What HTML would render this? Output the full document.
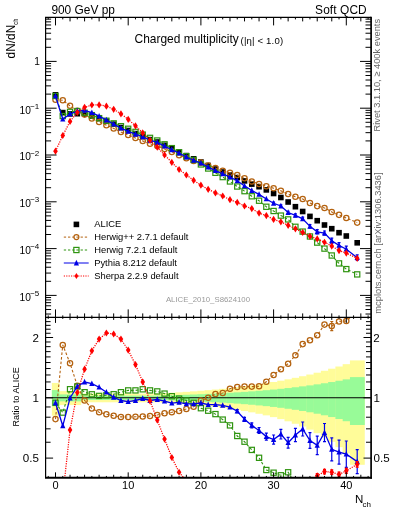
<!DOCTYPE html><html><head><meta charset="utf-8"><style>html,body{margin:0;padding:0;background:#fff;width:393px;height:512px;overflow:hidden}svg{display:block;will-change:transform}text{font-family:"Liberation Sans",sans-serif}</style></head><body>
<svg width="393" height="512" viewBox="0 0 393 512">
<defs><clipPath id="cm"><rect x="45.60" y="17.40" width="325.40" height="300.00"/></clipPath>
<clipPath id="cr"><rect x="45.60" y="317.40" width="325.40" height="160.60"/></clipPath></defs>
<g clip-path="url(#cr)">
<rect x="51.87" y="382.96" width="7.57" height="32.74" fill="#fffc99"/>
<rect x="59.13" y="391.11" width="7.57" height="13.95" fill="#fffc99"/>
<rect x="66.41" y="391.11" width="7.57" height="13.95" fill="#fffc99"/>
<rect x="73.67" y="391.11" width="7.57" height="13.95" fill="#fffc99"/>
<rect x="80.94" y="393.56" width="7.57" height="8.71" fill="#fffc99"/>
<rect x="88.22" y="393.56" width="7.57" height="8.71" fill="#fffc99"/>
<rect x="95.48" y="393.56" width="7.57" height="8.71" fill="#fffc99"/>
<rect x="102.75" y="393.56" width="7.57" height="8.71" fill="#fffc99"/>
<rect x="110.03" y="393.56" width="7.57" height="8.71" fill="#fffc99"/>
<rect x="117.29" y="393.56" width="7.57" height="8.71" fill="#fffc99"/>
<rect x="124.56" y="393.56" width="7.57" height="8.71" fill="#fffc99"/>
<rect x="131.83" y="393.56" width="7.57" height="8.71" fill="#fffc99"/>
<rect x="139.10" y="393.56" width="7.57" height="8.71" fill="#fffc99"/>
<rect x="146.38" y="393.56" width="7.57" height="8.71" fill="#fffc99"/>
<rect x="153.64" y="393.54" width="7.57" height="8.74" fill="#fffc99"/>
<rect x="160.91" y="393.17" width="7.57" height="9.53" fill="#fffc99"/>
<rect x="168.19" y="392.76" width="7.57" height="10.38" fill="#fffc99"/>
<rect x="175.45" y="392.32" width="7.57" height="11.32" fill="#fffc99"/>
<rect x="182.72" y="391.85" width="7.57" height="12.34" fill="#fffc99"/>
<rect x="190.00" y="391.33" width="7.57" height="13.46" fill="#fffc99"/>
<rect x="197.26" y="390.77" width="7.57" height="14.68" fill="#fffc99"/>
<rect x="204.53" y="390.16" width="7.57" height="16.01" fill="#fffc99"/>
<rect x="211.80" y="389.51" width="7.57" height="17.46" fill="#fffc99"/>
<rect x="219.07" y="388.80" width="7.57" height="19.04" fill="#fffc99"/>
<rect x="226.34" y="388.03" width="7.57" height="20.77" fill="#fffc99"/>
<rect x="233.61" y="387.21" width="7.57" height="22.66" fill="#fffc99"/>
<rect x="240.88" y="386.31" width="7.57" height="24.73" fill="#fffc99"/>
<rect x="248.16" y="385.35" width="7.57" height="26.99" fill="#fffc99"/>
<rect x="255.42" y="384.31" width="7.57" height="29.46" fill="#fffc99"/>
<rect x="262.69" y="383.19" width="7.57" height="32.17" fill="#fffc99"/>
<rect x="269.96" y="381.99" width="7.57" height="35.14" fill="#fffc99"/>
<rect x="277.24" y="380.70" width="7.57" height="38.41" fill="#fffc99"/>
<rect x="284.50" y="379.31" width="7.57" height="41.99" fill="#fffc99"/>
<rect x="291.77" y="377.83" width="7.57" height="45.94" fill="#fffc99"/>
<rect x="299.04" y="376.23" width="7.57" height="50.30" fill="#fffc99"/>
<rect x="306.31" y="374.53" width="7.57" height="55.13" fill="#fffc99"/>
<rect x="313.58" y="372.71" width="7.57" height="60.48" fill="#fffc99"/>
<rect x="320.85" y="370.77" width="7.57" height="66.45" fill="#fffc99"/>
<rect x="328.12" y="368.71" width="7.57" height="73.12" fill="#fffc99"/>
<rect x="335.39" y="366.51" width="7.57" height="80.64" fill="#fffc99"/>
<rect x="342.66" y="364.17" width="7.57" height="89.17" fill="#fffc99"/>
<rect x="349.94" y="360.41" width="14.84" height="104.38" fill="#fffc99"/>
<rect x="51.87" y="390.06" width="7.57" height="16.23" fill="#98fb98"/>
<rect x="59.13" y="394.39" width="7.57" height="6.96" fill="#98fb98"/>
<rect x="66.41" y="394.39" width="7.57" height="6.96" fill="#98fb98"/>
<rect x="73.67" y="394.39" width="7.57" height="6.96" fill="#98fb98"/>
<rect x="80.94" y="395.65" width="7.57" height="4.35" fill="#98fb98"/>
<rect x="88.22" y="395.65" width="7.57" height="4.35" fill="#98fb98"/>
<rect x="95.48" y="395.65" width="7.57" height="4.35" fill="#98fb98"/>
<rect x="102.75" y="395.65" width="7.57" height="4.35" fill="#98fb98"/>
<rect x="110.03" y="395.65" width="7.57" height="4.35" fill="#98fb98"/>
<rect x="117.29" y="395.65" width="7.57" height="4.35" fill="#98fb98"/>
<rect x="124.56" y="395.65" width="7.57" height="4.35" fill="#98fb98"/>
<rect x="131.83" y="395.65" width="7.57" height="4.35" fill="#98fb98"/>
<rect x="139.10" y="395.65" width="7.57" height="4.35" fill="#98fb98"/>
<rect x="146.38" y="395.65" width="7.57" height="4.35" fill="#98fb98"/>
<rect x="153.64" y="395.64" width="7.57" height="4.37" fill="#98fb98"/>
<rect x="160.91" y="395.45" width="7.57" height="4.76" fill="#98fb98"/>
<rect x="168.19" y="395.24" width="7.57" height="5.19" fill="#98fb98"/>
<rect x="175.45" y="395.02" width="7.57" height="5.66" fill="#98fb98"/>
<rect x="182.72" y="394.77" width="7.57" height="6.16" fill="#98fb98"/>
<rect x="190.00" y="394.50" width="7.57" height="6.72" fill="#98fb98"/>
<rect x="197.26" y="394.21" width="7.57" height="7.33" fill="#98fb98"/>
<rect x="204.53" y="393.90" width="7.57" height="7.99" fill="#98fb98"/>
<rect x="211.80" y="393.56" width="7.57" height="8.71" fill="#98fb98"/>
<rect x="219.07" y="393.18" width="7.57" height="9.49" fill="#98fb98"/>
<rect x="226.34" y="392.78" width="7.57" height="10.35" fill="#98fb98"/>
<rect x="233.61" y="392.34" width="7.57" height="11.28" fill="#98fb98"/>
<rect x="240.88" y="391.87" width="7.57" height="12.30" fill="#98fb98"/>
<rect x="248.16" y="391.35" width="7.57" height="13.41" fill="#98fb98"/>
<rect x="255.42" y="390.79" width="7.57" height="14.63" fill="#98fb98"/>
<rect x="262.69" y="390.19" width="7.57" height="15.95" fill="#98fb98"/>
<rect x="269.96" y="389.54" width="7.57" height="17.39" fill="#98fb98"/>
<rect x="277.24" y="388.83" width="7.57" height="18.97" fill="#98fb98"/>
<rect x="284.50" y="388.07" width="7.57" height="20.70" fill="#98fb98"/>
<rect x="291.77" y="387.24" width="7.57" height="22.58" fill="#98fb98"/>
<rect x="299.04" y="386.35" width="7.57" height="24.64" fill="#98fb98"/>
<rect x="306.31" y="385.39" width="7.57" height="26.89" fill="#98fb98"/>
<rect x="313.58" y="384.36" width="7.57" height="29.35" fill="#98fb98"/>
<rect x="320.85" y="383.24" width="7.57" height="32.05" fill="#98fb98"/>
<rect x="328.12" y="382.04" width="7.57" height="35.01" fill="#98fb98"/>
<rect x="335.39" y="380.75" width="7.57" height="38.27" fill="#98fb98"/>
<rect x="342.66" y="379.37" width="7.57" height="41.84" fill="#98fb98"/>
<rect x="349.94" y="377.11" width="14.84" height="47.89" fill="#98fb98"/>
<line x1="45.60" y1="397.8" x2="371.00" y2="397.8" stroke="#000" stroke-width="1.1"/>
<polyline points="55.50,419.10 62.77,344.90 70.04,363.30 77.31,385.70 84.58,400.40 91.85,408.50 99.12,412.20 106.39,414.20 113.66,415.70 120.93,416.90 128.20,417.00 135.47,416.80 142.74,416.40 150.01,415.90 157.28,415.00 164.55,413.30 171.82,412.30 179.09,410.90 186.36,409.00 193.63,406.80 200.90,400.50 208.17,397.80 215.44,394.00 222.71,393.00 229.98,388.70 237.25,387.00 244.52,386.60 251.79,386.60 259.06,386.20 266.33,381.80 273.60,374.90 280.87,369.30 288.14,363.70 295.41,355.30 302.68,344.10 309.95,340.20 317.22,335.30 324.49,324.60 331.76,326.10 339.03,321.40 346.30,321.00 357.20,311.35" fill="none" stroke="#b4620f" stroke-width="1.10" stroke-dasharray="2.6,2.0"/>
<path d="M331.76 321.50V330.70M330.26 321.50h3M330.26 330.70h3" stroke="#b4620f" stroke-width="1.2" fill="none"/>
<circle cx="55.50" cy="419.10" r="2.65" fill="none" stroke="#b4620f" stroke-width="1.25"/>
<circle cx="62.77" cy="344.90" r="2.65" fill="none" stroke="#b4620f" stroke-width="1.25"/>
<circle cx="70.04" cy="363.30" r="2.65" fill="none" stroke="#b4620f" stroke-width="1.25"/>
<circle cx="77.31" cy="385.70" r="2.65" fill="none" stroke="#b4620f" stroke-width="1.25"/>
<circle cx="84.58" cy="400.40" r="2.65" fill="none" stroke="#b4620f" stroke-width="1.25"/>
<circle cx="91.85" cy="408.50" r="2.65" fill="none" stroke="#b4620f" stroke-width="1.25"/>
<circle cx="99.12" cy="412.20" r="2.65" fill="none" stroke="#b4620f" stroke-width="1.25"/>
<circle cx="106.39" cy="414.20" r="2.65" fill="none" stroke="#b4620f" stroke-width="1.25"/>
<circle cx="113.66" cy="415.70" r="2.65" fill="none" stroke="#b4620f" stroke-width="1.25"/>
<circle cx="120.93" cy="416.90" r="2.65" fill="none" stroke="#b4620f" stroke-width="1.25"/>
<circle cx="128.20" cy="417.00" r="2.65" fill="none" stroke="#b4620f" stroke-width="1.25"/>
<circle cx="135.47" cy="416.80" r="2.65" fill="none" stroke="#b4620f" stroke-width="1.25"/>
<circle cx="142.74" cy="416.40" r="2.65" fill="none" stroke="#b4620f" stroke-width="1.25"/>
<circle cx="150.01" cy="415.90" r="2.65" fill="none" stroke="#b4620f" stroke-width="1.25"/>
<circle cx="157.28" cy="415.00" r="2.65" fill="none" stroke="#b4620f" stroke-width="1.25"/>
<circle cx="164.55" cy="413.30" r="2.65" fill="none" stroke="#b4620f" stroke-width="1.25"/>
<circle cx="171.82" cy="412.30" r="2.65" fill="none" stroke="#b4620f" stroke-width="1.25"/>
<circle cx="179.09" cy="410.90" r="2.65" fill="none" stroke="#b4620f" stroke-width="1.25"/>
<circle cx="186.36" cy="409.00" r="2.65" fill="none" stroke="#b4620f" stroke-width="1.25"/>
<circle cx="193.63" cy="406.80" r="2.65" fill="none" stroke="#b4620f" stroke-width="1.25"/>
<circle cx="200.90" cy="400.50" r="2.65" fill="none" stroke="#b4620f" stroke-width="1.25"/>
<circle cx="208.17" cy="397.80" r="2.65" fill="none" stroke="#b4620f" stroke-width="1.25"/>
<circle cx="215.44" cy="394.00" r="2.65" fill="none" stroke="#b4620f" stroke-width="1.25"/>
<circle cx="222.71" cy="393.00" r="2.65" fill="none" stroke="#b4620f" stroke-width="1.25"/>
<circle cx="229.98" cy="388.70" r="2.65" fill="none" stroke="#b4620f" stroke-width="1.25"/>
<circle cx="237.25" cy="387.00" r="2.65" fill="none" stroke="#b4620f" stroke-width="1.25"/>
<circle cx="244.52" cy="386.60" r="2.65" fill="none" stroke="#b4620f" stroke-width="1.25"/>
<circle cx="251.79" cy="386.60" r="2.65" fill="none" stroke="#b4620f" stroke-width="1.25"/>
<circle cx="259.06" cy="386.20" r="2.65" fill="none" stroke="#b4620f" stroke-width="1.25"/>
<circle cx="266.33" cy="381.80" r="2.65" fill="none" stroke="#b4620f" stroke-width="1.25"/>
<circle cx="273.60" cy="374.90" r="2.65" fill="none" stroke="#b4620f" stroke-width="1.25"/>
<circle cx="280.87" cy="369.30" r="2.65" fill="none" stroke="#b4620f" stroke-width="1.25"/>
<circle cx="288.14" cy="363.70" r="2.65" fill="none" stroke="#b4620f" stroke-width="1.25"/>
<circle cx="295.41" cy="355.30" r="2.65" fill="none" stroke="#b4620f" stroke-width="1.25"/>
<circle cx="302.68" cy="344.10" r="2.65" fill="none" stroke="#b4620f" stroke-width="1.25"/>
<circle cx="309.95" cy="340.20" r="2.65" fill="none" stroke="#b4620f" stroke-width="1.25"/>
<circle cx="317.22" cy="335.30" r="2.65" fill="none" stroke="#b4620f" stroke-width="1.25"/>
<circle cx="324.49" cy="324.60" r="2.65" fill="none" stroke="#b4620f" stroke-width="1.25"/>
<circle cx="331.76" cy="326.10" r="2.65" fill="none" stroke="#b4620f" stroke-width="1.25"/>
<circle cx="339.03" cy="321.40" r="2.65" fill="none" stroke="#b4620f" stroke-width="1.25"/>
<circle cx="346.30" cy="321.00" r="2.65" fill="none" stroke="#b4620f" stroke-width="1.25"/>
<circle cx="357.20" cy="311.35" r="2.65" fill="none" stroke="#b4620f" stroke-width="1.25"/>
<polyline points="55.50,402.80 62.77,412.60 70.04,389.20 77.31,386.50 84.58,392.20 91.85,394.30 99.12,395.90 106.39,395.30 113.66,394.25 120.93,392.20 128.20,390.40 135.47,390.40 142.74,389.30 150.01,390.40 157.28,391.40 164.55,393.60 171.82,396.20 179.09,398.60 186.36,400.40 193.63,402.80 200.90,408.20 208.17,410.70 215.44,414.10 222.71,419.60 229.98,425.40 237.25,436.00 244.52,441.70 251.79,449.90 259.06,457.80 266.33,470.00 273.60,472.70 280.87,475.27 288.14,472.27 295.41,483.83 302.68,483.83 309.95,483.83 317.22,491.53 324.49,498.81 331.76,512.50 339.03,529.19 346.30,539.47 357.20,533.05" fill="none" stroke="#2f9410" stroke-width="1.10" stroke-dasharray="2.6,2.0"/>
<rect x="52.90" y="400.20" width="5.2" height="5.2" fill="none" stroke="#2f9410" stroke-width="1.2"/>
<rect x="60.17" y="410.00" width="5.2" height="5.2" fill="none" stroke="#2f9410" stroke-width="1.2"/>
<rect x="67.44" y="386.60" width="5.2" height="5.2" fill="none" stroke="#2f9410" stroke-width="1.2"/>
<rect x="74.71" y="383.90" width="5.2" height="5.2" fill="none" stroke="#2f9410" stroke-width="1.2"/>
<rect x="81.98" y="389.60" width="5.2" height="5.2" fill="none" stroke="#2f9410" stroke-width="1.2"/>
<rect x="89.25" y="391.70" width="5.2" height="5.2" fill="none" stroke="#2f9410" stroke-width="1.2"/>
<rect x="96.52" y="393.30" width="5.2" height="5.2" fill="none" stroke="#2f9410" stroke-width="1.2"/>
<rect x="103.79" y="392.70" width="5.2" height="5.2" fill="none" stroke="#2f9410" stroke-width="1.2"/>
<rect x="111.06" y="391.65" width="5.2" height="5.2" fill="none" stroke="#2f9410" stroke-width="1.2"/>
<rect x="118.33" y="389.60" width="5.2" height="5.2" fill="none" stroke="#2f9410" stroke-width="1.2"/>
<rect x="125.60" y="387.80" width="5.2" height="5.2" fill="none" stroke="#2f9410" stroke-width="1.2"/>
<rect x="132.87" y="387.80" width="5.2" height="5.2" fill="none" stroke="#2f9410" stroke-width="1.2"/>
<rect x="140.14" y="386.70" width="5.2" height="5.2" fill="none" stroke="#2f9410" stroke-width="1.2"/>
<rect x="147.41" y="387.80" width="5.2" height="5.2" fill="none" stroke="#2f9410" stroke-width="1.2"/>
<rect x="154.68" y="388.80" width="5.2" height="5.2" fill="none" stroke="#2f9410" stroke-width="1.2"/>
<rect x="161.95" y="391.00" width="5.2" height="5.2" fill="none" stroke="#2f9410" stroke-width="1.2"/>
<rect x="169.22" y="393.60" width="5.2" height="5.2" fill="none" stroke="#2f9410" stroke-width="1.2"/>
<rect x="176.49" y="396.00" width="5.2" height="5.2" fill="none" stroke="#2f9410" stroke-width="1.2"/>
<rect x="183.76" y="397.80" width="5.2" height="5.2" fill="none" stroke="#2f9410" stroke-width="1.2"/>
<rect x="191.03" y="400.20" width="5.2" height="5.2" fill="none" stroke="#2f9410" stroke-width="1.2"/>
<rect x="198.30" y="405.60" width="5.2" height="5.2" fill="none" stroke="#2f9410" stroke-width="1.2"/>
<rect x="205.57" y="408.10" width="5.2" height="5.2" fill="none" stroke="#2f9410" stroke-width="1.2"/>
<rect x="212.84" y="411.50" width="5.2" height="5.2" fill="none" stroke="#2f9410" stroke-width="1.2"/>
<rect x="220.11" y="417.00" width="5.2" height="5.2" fill="none" stroke="#2f9410" stroke-width="1.2"/>
<rect x="227.38" y="422.80" width="5.2" height="5.2" fill="none" stroke="#2f9410" stroke-width="1.2"/>
<rect x="234.65" y="433.40" width="5.2" height="5.2" fill="none" stroke="#2f9410" stroke-width="1.2"/>
<rect x="241.92" y="439.10" width="5.2" height="5.2" fill="none" stroke="#2f9410" stroke-width="1.2"/>
<rect x="249.19" y="447.30" width="5.2" height="5.2" fill="none" stroke="#2f9410" stroke-width="1.2"/>
<rect x="256.46" y="455.20" width="5.2" height="5.2" fill="none" stroke="#2f9410" stroke-width="1.2"/>
<rect x="263.73" y="467.40" width="5.2" height="5.2" fill="none" stroke="#2f9410" stroke-width="1.2"/>
<rect x="271.00" y="470.10" width="5.2" height="5.2" fill="none" stroke="#2f9410" stroke-width="1.2"/>
<rect x="278.27" y="472.67" width="5.2" height="5.2" fill="none" stroke="#2f9410" stroke-width="1.2"/>
<rect x="285.54" y="469.67" width="5.2" height="5.2" fill="none" stroke="#2f9410" stroke-width="1.2"/>
<rect x="292.81" y="481.23" width="5.2" height="5.2" fill="none" stroke="#2f9410" stroke-width="1.2"/>
<rect x="300.08" y="481.23" width="5.2" height="5.2" fill="none" stroke="#2f9410" stroke-width="1.2"/>
<rect x="307.35" y="481.23" width="5.2" height="5.2" fill="none" stroke="#2f9410" stroke-width="1.2"/>
<rect x="314.62" y="488.93" width="5.2" height="5.2" fill="none" stroke="#2f9410" stroke-width="1.2"/>
<rect x="321.89" y="496.21" width="5.2" height="5.2" fill="none" stroke="#2f9410" stroke-width="1.2"/>
<rect x="329.16" y="509.90" width="5.2" height="5.2" fill="none" stroke="#2f9410" stroke-width="1.2"/>
<rect x="336.43" y="526.59" width="5.2" height="5.2" fill="none" stroke="#2f9410" stroke-width="1.2"/>
<rect x="343.70" y="536.87" width="5.2" height="5.2" fill="none" stroke="#2f9410" stroke-width="1.2"/>
<rect x="354.60" y="530.45" width="5.2" height="5.2" fill="none" stroke="#2f9410" stroke-width="1.2"/>
<polyline points="55.50,402.80 62.77,425.80 70.04,398.00 77.31,386.50 84.58,382.00 91.85,383.70 99.12,387.20 106.39,392.20 113.66,397.30 120.93,400.50 128.20,401.60 135.47,400.50 142.74,398.50 150.01,400.50 157.28,399.50 164.55,401.10 171.82,403.10 179.09,402.30 186.36,403.90 193.63,403.90 200.90,403.00 208.17,404.60 215.44,404.60 222.71,405.40 229.98,407.10 237.25,411.20 244.52,419.30 251.79,425.40 259.06,430.50 266.33,436.60 273.60,439.60 280.87,434.20 288.14,442.70 295.41,435.00 302.68,429.00 309.95,440.50 317.22,445.40 324.49,432.60 331.76,449.30 339.03,452.20 346.30,454.20 357.20,461.60" fill="none" stroke="#0000e6" stroke-width="1.30"/>
<path d="M237.25 409.70V412.70M235.75 409.70h3M235.75 412.70h3" stroke="#0000e6" stroke-width="1.2" fill="none"/>
<path d="M244.52 417.30V421.30M243.02 417.30h3M243.02 421.30h3" stroke="#0000e6" stroke-width="1.2" fill="none"/>
<path d="M251.79 422.90V427.90M250.29 422.90h3M250.29 427.90h3" stroke="#0000e6" stroke-width="1.2" fill="none"/>
<path d="M259.06 427.50V433.50M257.56 427.50h3M257.56 433.50h3" stroke="#0000e6" stroke-width="1.2" fill="none"/>
<path d="M266.33 433.10V440.10M264.83 433.10h3M264.83 440.10h3" stroke="#0000e6" stroke-width="1.2" fill="none"/>
<path d="M273.60 435.00V444.20M272.10 435.00h3M272.10 444.20h3" stroke="#0000e6" stroke-width="1.2" fill="none"/>
<path d="M280.87 429.40V439.00M279.37 429.40h3M279.37 439.00h3" stroke="#0000e6" stroke-width="1.2" fill="none"/>
<path d="M288.14 437.30V448.10M286.64 437.30h3M286.64 448.10h3" stroke="#0000e6" stroke-width="1.2" fill="none"/>
<path d="M295.41 428.40V441.60M293.91 428.40h3M293.91 441.60h3" stroke="#0000e6" stroke-width="1.2" fill="none"/>
<path d="M302.68 422.00V436.00M301.18 422.00h3M301.18 436.00h3" stroke="#0000e6" stroke-width="1.2" fill="none"/>
<path d="M309.95 432.70V448.30M308.45 432.70h3M308.45 448.30h3" stroke="#0000e6" stroke-width="1.2" fill="none"/>
<path d="M317.22 436.10V454.70M315.72 436.10h3M315.72 454.70h3" stroke="#0000e6" stroke-width="1.2" fill="none"/>
<path d="M324.49 423.50V441.70M322.99 423.50h3M322.99 441.70h3" stroke="#0000e6" stroke-width="1.2" fill="none"/>
<path d="M331.76 437.80V460.80M330.26 437.80h3M330.26 460.80h3" stroke="#0000e6" stroke-width="1.2" fill="none"/>
<path d="M339.03 440.20V464.20M337.53 440.20h3M337.53 464.20h3" stroke="#0000e6" stroke-width="1.2" fill="none"/>
<path d="M346.30 441.00V467.40M344.80 441.00h3M344.80 467.40h3" stroke="#0000e6" stroke-width="1.2" fill="none"/>
<path d="M357.20 449.60V473.60M355.70 449.60h3M355.70 473.60h3" stroke="#0000e6" stroke-width="1.2" fill="none"/>
<path d="M55.50 399.60L58.10 405.20L52.90 405.20Z" fill="#0000e6"/>
<path d="M62.77 422.60L65.37 428.20L60.17 428.20Z" fill="#0000e6"/>
<path d="M70.04 394.80L72.64 400.40L67.44 400.40Z" fill="#0000e6"/>
<path d="M77.31 383.30L79.91 388.90L74.71 388.90Z" fill="#0000e6"/>
<path d="M84.58 378.80L87.18 384.40L81.98 384.40Z" fill="#0000e6"/>
<path d="M91.85 380.50L94.45 386.10L89.25 386.10Z" fill="#0000e6"/>
<path d="M99.12 384.00L101.72 389.60L96.52 389.60Z" fill="#0000e6"/>
<path d="M106.39 389.00L108.99 394.60L103.79 394.60Z" fill="#0000e6"/>
<path d="M113.66 394.10L116.26 399.70L111.06 399.70Z" fill="#0000e6"/>
<path d="M120.93 397.30L123.53 402.90L118.33 402.90Z" fill="#0000e6"/>
<path d="M128.20 398.40L130.80 404.00L125.60 404.00Z" fill="#0000e6"/>
<path d="M135.47 397.30L138.07 402.90L132.87 402.90Z" fill="#0000e6"/>
<path d="M142.74 395.30L145.34 400.90L140.14 400.90Z" fill="#0000e6"/>
<path d="M150.01 397.30L152.61 402.90L147.41 402.90Z" fill="#0000e6"/>
<path d="M157.28 396.30L159.88 401.90L154.68 401.90Z" fill="#0000e6"/>
<path d="M164.55 397.90L167.15 403.50L161.95 403.50Z" fill="#0000e6"/>
<path d="M171.82 399.90L174.42 405.50L169.22 405.50Z" fill="#0000e6"/>
<path d="M179.09 399.10L181.69 404.70L176.49 404.70Z" fill="#0000e6"/>
<path d="M186.36 400.70L188.96 406.30L183.76 406.30Z" fill="#0000e6"/>
<path d="M193.63 400.70L196.23 406.30L191.03 406.30Z" fill="#0000e6"/>
<path d="M200.90 399.80L203.50 405.40L198.30 405.40Z" fill="#0000e6"/>
<path d="M208.17 401.40L210.77 407.00L205.57 407.00Z" fill="#0000e6"/>
<path d="M215.44 401.40L218.04 407.00L212.84 407.00Z" fill="#0000e6"/>
<path d="M222.71 402.20L225.31 407.80L220.11 407.80Z" fill="#0000e6"/>
<path d="M229.98 403.90L232.58 409.50L227.38 409.50Z" fill="#0000e6"/>
<path d="M237.25 408.00L239.85 413.60L234.65 413.60Z" fill="#0000e6"/>
<path d="M244.52 416.10L247.12 421.70L241.92 421.70Z" fill="#0000e6"/>
<path d="M251.79 422.20L254.39 427.80L249.19 427.80Z" fill="#0000e6"/>
<path d="M259.06 427.30L261.66 432.90L256.46 432.90Z" fill="#0000e6"/>
<path d="M266.33 433.40L268.93 439.00L263.73 439.00Z" fill="#0000e6"/>
<path d="M273.60 436.40L276.20 442.00L271.00 442.00Z" fill="#0000e6"/>
<path d="M280.87 431.00L283.47 436.60L278.27 436.60Z" fill="#0000e6"/>
<path d="M288.14 439.50L290.74 445.10L285.54 445.10Z" fill="#0000e6"/>
<path d="M295.41 431.80L298.01 437.40L292.81 437.40Z" fill="#0000e6"/>
<path d="M302.68 425.80L305.28 431.40L300.08 431.40Z" fill="#0000e6"/>
<path d="M309.95 437.30L312.55 442.90L307.35 442.90Z" fill="#0000e6"/>
<path d="M317.22 442.20L319.82 447.80L314.62 447.80Z" fill="#0000e6"/>
<path d="M324.49 429.40L327.09 435.00L321.89 435.00Z" fill="#0000e6"/>
<path d="M331.76 446.10L334.36 451.70L329.16 451.70Z" fill="#0000e6"/>
<path d="M339.03 449.00L341.63 454.60L336.43 454.60Z" fill="#0000e6"/>
<path d="M346.30 451.00L348.90 456.60L343.70 456.60Z" fill="#0000e6"/>
<path d="M357.20 458.40L359.81 464.00L354.60 464.00Z" fill="#0000e6"/>
<polyline points="55.50,639.19 62.77,495.81 70.04,429.90 77.31,392.60 84.58,369.20 91.85,350.80 99.12,339.10 106.39,333.00 113.66,334.00 120.93,339.10 128.20,350.10 135.47,364.60 142.74,381.90 150.01,400.90 157.28,420.10 164.55,439.10 171.82,457.50 179.09,472.27 186.36,480.83 193.63,489.82 200.90,497.09 208.17,499.66 215.44,500.09 222.71,500.52 229.98,503.51 237.25,503.94 244.52,505.23 251.79,502.66 259.06,510.79 266.33,507.79 273.60,508.65 280.87,501.80 288.14,497.52 295.41,492.39 302.68,487.25 309.95,482.97 317.22,475.80 324.49,471.60 331.76,472.20 339.03,474.50 346.30,470.80 357.20,464.30" fill="none" stroke="#ff0000" stroke-width="1.25" stroke-dasharray="1.2,1.2"/>
<path d="M317.22 473.60V478.00M315.72 473.60h3M315.72 478.00h3" stroke="#ff0000" stroke-width="1.2" fill="none"/>
<path d="M324.49 469.40V473.80M322.99 469.40h3M322.99 473.80h3" stroke="#ff0000" stroke-width="1.2" fill="none"/>
<path d="M331.76 469.90V474.50M330.26 469.90h3M330.26 474.50h3" stroke="#ff0000" stroke-width="1.2" fill="none"/>
<path d="M339.03 472.10V476.90M337.53 472.10h3M337.53 476.90h3" stroke="#ff0000" stroke-width="1.2" fill="none"/>
<path d="M346.30 468.30V473.30M344.80 468.30h3M344.80 473.30h3" stroke="#ff0000" stroke-width="1.2" fill="none"/>
<path d="M357.20 461.50V467.10M355.70 461.50h3M355.70 467.10h3" stroke="#ff0000" stroke-width="1.2" fill="none"/>
<path d="M55.50 635.59L57.80 639.19L55.50 642.79L53.20 639.19Z" fill="#ff0000"/>
<path d="M62.77 492.21L65.07 495.81L62.77 499.41L60.47 495.81Z" fill="#ff0000"/>
<path d="M70.04 426.30L72.34 429.90L70.04 433.50L67.74 429.90Z" fill="#ff0000"/>
<path d="M77.31 389.00L79.61 392.60L77.31 396.20L75.01 392.60Z" fill="#ff0000"/>
<path d="M84.58 365.60L86.88 369.20L84.58 372.80L82.28 369.20Z" fill="#ff0000"/>
<path d="M91.85 347.20L94.15 350.80L91.85 354.40L89.55 350.80Z" fill="#ff0000"/>
<path d="M99.12 335.50L101.42 339.10L99.12 342.70L96.82 339.10Z" fill="#ff0000"/>
<path d="M106.39 329.40L108.69 333.00L106.39 336.60L104.09 333.00Z" fill="#ff0000"/>
<path d="M113.66 330.40L115.96 334.00L113.66 337.60L111.36 334.00Z" fill="#ff0000"/>
<path d="M120.93 335.50L123.23 339.10L120.93 342.70L118.63 339.10Z" fill="#ff0000"/>
<path d="M128.20 346.50L130.50 350.10L128.20 353.70L125.90 350.10Z" fill="#ff0000"/>
<path d="M135.47 361.00L137.77 364.60L135.47 368.20L133.17 364.60Z" fill="#ff0000"/>
<path d="M142.74 378.30L145.04 381.90L142.74 385.50L140.44 381.90Z" fill="#ff0000"/>
<path d="M150.01 397.30L152.31 400.90L150.01 404.50L147.71 400.90Z" fill="#ff0000"/>
<path d="M157.28 416.50L159.58 420.10L157.28 423.70L154.98 420.10Z" fill="#ff0000"/>
<path d="M164.55 435.50L166.85 439.10L164.55 442.70L162.25 439.10Z" fill="#ff0000"/>
<path d="M171.82 453.90L174.12 457.50L171.82 461.10L169.52 457.50Z" fill="#ff0000"/>
<path d="M179.09 468.67L181.39 472.27L179.09 475.87L176.79 472.27Z" fill="#ff0000"/>
<path d="M186.36 477.23L188.66 480.83L186.36 484.43L184.06 480.83Z" fill="#ff0000"/>
<path d="M193.63 486.22L195.93 489.82L193.63 493.42L191.33 489.82Z" fill="#ff0000"/>
<path d="M200.90 493.49L203.20 497.09L200.90 500.69L198.60 497.09Z" fill="#ff0000"/>
<path d="M208.17 496.06L210.47 499.66L208.17 503.26L205.87 499.66Z" fill="#ff0000"/>
<path d="M215.44 496.49L217.74 500.09L215.44 503.69L213.14 500.09Z" fill="#ff0000"/>
<path d="M222.71 496.92L225.01 500.52L222.71 504.12L220.41 500.52Z" fill="#ff0000"/>
<path d="M229.98 499.91L232.28 503.51L229.98 507.11L227.68 503.51Z" fill="#ff0000"/>
<path d="M237.25 500.34L239.55 503.94L237.25 507.54L234.95 503.94Z" fill="#ff0000"/>
<path d="M244.52 501.63L246.82 505.23L244.52 508.83L242.22 505.23Z" fill="#ff0000"/>
<path d="M251.79 499.06L254.09 502.66L251.79 506.26L249.49 502.66Z" fill="#ff0000"/>
<path d="M259.06 507.19L261.36 510.79L259.06 514.39L256.76 510.79Z" fill="#ff0000"/>
<path d="M266.33 504.19L268.63 507.79L266.33 511.39L264.03 507.79Z" fill="#ff0000"/>
<path d="M273.60 505.05L275.90 508.65L273.60 512.25L271.30 508.65Z" fill="#ff0000"/>
<path d="M280.87 498.20L283.17 501.80L280.87 505.40L278.57 501.80Z" fill="#ff0000"/>
<path d="M288.14 493.92L290.44 497.52L288.14 501.12L285.84 497.52Z" fill="#ff0000"/>
<path d="M295.41 488.79L297.71 492.39L295.41 495.99L293.11 492.39Z" fill="#ff0000"/>
<path d="M302.68 483.65L304.98 487.25L302.68 490.85L300.38 487.25Z" fill="#ff0000"/>
<path d="M309.95 479.37L312.25 482.97L309.95 486.57L307.65 482.97Z" fill="#ff0000"/>
<path d="M317.22 472.20L319.52 475.80L317.22 479.40L314.92 475.80Z" fill="#ff0000"/>
<path d="M324.49 468.00L326.79 471.60L324.49 475.20L322.19 471.60Z" fill="#ff0000"/>
<path d="M331.76 468.60L334.06 472.20L331.76 475.80L329.46 472.20Z" fill="#ff0000"/>
<path d="M339.03 470.90L341.33 474.50L339.03 478.10L336.73 474.50Z" fill="#ff0000"/>
<path d="M346.30 467.20L348.60 470.80L346.30 474.40L344.00 470.80Z" fill="#ff0000"/>
<path d="M357.20 460.70L359.50 464.30L357.20 467.90L354.90 464.30Z" fill="#ff0000"/>
</g>
<g clip-path="url(#cm)">
<rect x="52.70" y="92.00" width="5.6" height="5.6" fill="#000"/>
<rect x="59.97" y="109.80" width="5.6" height="5.6" fill="#000"/>
<rect x="67.24" y="111.10" width="5.6" height="5.6" fill="#000"/>
<rect x="74.51" y="110.90" width="5.6" height="5.6" fill="#000"/>
<rect x="81.78" y="111.20" width="5.6" height="5.6" fill="#000"/>
<rect x="89.05" y="113.20" width="5.6" height="5.6" fill="#000"/>
<rect x="96.32" y="115.80" width="5.6" height="5.6" fill="#000"/>
<rect x="103.59" y="118.50" width="5.6" height="5.6" fill="#000"/>
<rect x="110.86" y="121.40" width="5.6" height="5.6" fill="#000"/>
<rect x="118.13" y="124.70" width="5.6" height="5.6" fill="#000"/>
<rect x="125.40" y="127.70" width="5.6" height="5.6" fill="#000"/>
<rect x="132.67" y="130.80" width="5.6" height="5.6" fill="#000"/>
<rect x="139.94" y="133.80" width="5.6" height="5.6" fill="#000"/>
<rect x="147.21" y="136.80" width="5.6" height="5.6" fill="#000"/>
<rect x="154.48" y="139.20" width="5.6" height="5.6" fill="#000"/>
<rect x="161.75" y="142.50" width="5.6" height="5.6" fill="#000"/>
<rect x="169.02" y="145.70" width="5.6" height="5.6" fill="#000"/>
<rect x="176.29" y="149.30" width="5.6" height="5.6" fill="#000"/>
<rect x="183.56" y="152.80" width="5.6" height="5.6" fill="#000"/>
<rect x="190.83" y="156.00" width="5.6" height="5.6" fill="#000"/>
<rect x="198.10" y="159.20" width="5.6" height="5.6" fill="#000"/>
<rect x="205.37" y="162.70" width="5.6" height="5.6" fill="#000"/>
<rect x="212.64" y="166.20" width="5.6" height="5.6" fill="#000"/>
<rect x="219.91" y="169.20" width="5.6" height="5.6" fill="#000"/>
<rect x="227.18" y="172.20" width="5.6" height="5.6" fill="#000"/>
<rect x="234.45" y="174.80" width="5.6" height="5.6" fill="#000"/>
<rect x="241.72" y="178.10" width="5.6" height="5.6" fill="#000"/>
<rect x="248.99" y="181.30" width="5.6" height="5.6" fill="#000"/>
<rect x="256.26" y="183.90" width="5.6" height="5.6" fill="#000"/>
<rect x="263.53" y="187.10" width="5.6" height="5.6" fill="#000"/>
<rect x="270.80" y="190.70" width="5.6" height="5.6" fill="#000"/>
<rect x="278.07" y="194.70" width="5.6" height="5.6" fill="#000"/>
<rect x="285.34" y="199.20" width="5.6" height="5.6" fill="#000"/>
<rect x="292.61" y="203.90" width="5.6" height="5.6" fill="#000"/>
<rect x="299.88" y="208.70" width="5.6" height="5.6" fill="#000"/>
<rect x="307.15" y="213.60" width="5.6" height="5.6" fill="#000"/>
<rect x="314.42" y="217.90" width="5.6" height="5.6" fill="#000"/>
<rect x="321.69" y="222.20" width="5.6" height="5.6" fill="#000"/>
<rect x="328.96" y="225.90" width="5.6" height="5.6" fill="#000"/>
<rect x="336.23" y="229.90" width="5.6" height="5.6" fill="#000"/>
<rect x="343.50" y="233.20" width="5.6" height="5.6" fill="#000"/>
<rect x="354.40" y="240.00" width="5.6" height="5.6" fill="#000"/>
<polyline points="55.50,99.78 62.77,100.24 70.04,105.84 77.31,110.87 84.58,114.61 91.85,118.50 99.12,121.96 106.39,125.13 113.66,128.38 120.93,131.96 128.20,134.99 135.47,138.04 142.74,140.95 150.01,143.83 157.28,146.02 164.55,148.92 171.82,151.89 179.09,155.16 186.36,158.22 193.63,160.90 200.90,162.63 208.17,165.50 215.44,168.11 222.71,170.88 229.98,172.87 237.25,175.08 244.52,178.28 251.79,181.48 259.06,183.99 266.33,186.16 273.60,188.15 280.87,190.84 288.14,194.03 295.41,196.77 302.68,198.95 309.95,202.94 317.22,206.10 324.49,207.90 331.76,211.95 339.03,214.85 346.30,218.06 357.20,222.60" fill="none" stroke="#b4620f" stroke-width="1.10" stroke-dasharray="2.6,2.0"/>
<circle cx="55.50" cy="99.78" r="2.65" fill="none" stroke="#b4620f" stroke-width="1.25"/>
<circle cx="62.77" cy="100.24" r="2.65" fill="none" stroke="#b4620f" stroke-width="1.25"/>
<circle cx="70.04" cy="105.84" r="2.65" fill="none" stroke="#b4620f" stroke-width="1.25"/>
<circle cx="77.31" cy="110.87" r="2.65" fill="none" stroke="#b4620f" stroke-width="1.25"/>
<circle cx="84.58" cy="114.61" r="2.65" fill="none" stroke="#b4620f" stroke-width="1.25"/>
<circle cx="91.85" cy="118.50" r="2.65" fill="none" stroke="#b4620f" stroke-width="1.25"/>
<circle cx="99.12" cy="121.96" r="2.65" fill="none" stroke="#b4620f" stroke-width="1.25"/>
<circle cx="106.39" cy="125.13" r="2.65" fill="none" stroke="#b4620f" stroke-width="1.25"/>
<circle cx="113.66" cy="128.38" r="2.65" fill="none" stroke="#b4620f" stroke-width="1.25"/>
<circle cx="120.93" cy="131.96" r="2.65" fill="none" stroke="#b4620f" stroke-width="1.25"/>
<circle cx="128.20" cy="134.99" r="2.65" fill="none" stroke="#b4620f" stroke-width="1.25"/>
<circle cx="135.47" cy="138.04" r="2.65" fill="none" stroke="#b4620f" stroke-width="1.25"/>
<circle cx="142.74" cy="140.95" r="2.65" fill="none" stroke="#b4620f" stroke-width="1.25"/>
<circle cx="150.01" cy="143.83" r="2.65" fill="none" stroke="#b4620f" stroke-width="1.25"/>
<circle cx="157.28" cy="146.02" r="2.65" fill="none" stroke="#b4620f" stroke-width="1.25"/>
<circle cx="164.55" cy="148.92" r="2.65" fill="none" stroke="#b4620f" stroke-width="1.25"/>
<circle cx="171.82" cy="151.89" r="2.65" fill="none" stroke="#b4620f" stroke-width="1.25"/>
<circle cx="179.09" cy="155.16" r="2.65" fill="none" stroke="#b4620f" stroke-width="1.25"/>
<circle cx="186.36" cy="158.22" r="2.65" fill="none" stroke="#b4620f" stroke-width="1.25"/>
<circle cx="193.63" cy="160.90" r="2.65" fill="none" stroke="#b4620f" stroke-width="1.25"/>
<circle cx="200.90" cy="162.63" r="2.65" fill="none" stroke="#b4620f" stroke-width="1.25"/>
<circle cx="208.17" cy="165.50" r="2.65" fill="none" stroke="#b4620f" stroke-width="1.25"/>
<circle cx="215.44" cy="168.11" r="2.65" fill="none" stroke="#b4620f" stroke-width="1.25"/>
<circle cx="222.71" cy="170.88" r="2.65" fill="none" stroke="#b4620f" stroke-width="1.25"/>
<circle cx="229.98" cy="172.87" r="2.65" fill="none" stroke="#b4620f" stroke-width="1.25"/>
<circle cx="237.25" cy="175.08" r="2.65" fill="none" stroke="#b4620f" stroke-width="1.25"/>
<circle cx="244.52" cy="178.28" r="2.65" fill="none" stroke="#b4620f" stroke-width="1.25"/>
<circle cx="251.79" cy="181.48" r="2.65" fill="none" stroke="#b4620f" stroke-width="1.25"/>
<circle cx="259.06" cy="183.99" r="2.65" fill="none" stroke="#b4620f" stroke-width="1.25"/>
<circle cx="266.33" cy="186.16" r="2.65" fill="none" stroke="#b4620f" stroke-width="1.25"/>
<circle cx="273.60" cy="188.15" r="2.65" fill="none" stroke="#b4620f" stroke-width="1.25"/>
<circle cx="280.87" cy="190.84" r="2.65" fill="none" stroke="#b4620f" stroke-width="1.25"/>
<circle cx="288.14" cy="194.03" r="2.65" fill="none" stroke="#b4620f" stroke-width="1.25"/>
<circle cx="295.41" cy="196.77" r="2.65" fill="none" stroke="#b4620f" stroke-width="1.25"/>
<circle cx="302.68" cy="198.95" r="2.65" fill="none" stroke="#b4620f" stroke-width="1.25"/>
<circle cx="309.95" cy="202.94" r="2.65" fill="none" stroke="#b4620f" stroke-width="1.25"/>
<circle cx="317.22" cy="206.10" r="2.65" fill="none" stroke="#b4620f" stroke-width="1.25"/>
<circle cx="324.49" cy="207.90" r="2.65" fill="none" stroke="#b4620f" stroke-width="1.25"/>
<circle cx="331.76" cy="211.95" r="2.65" fill="none" stroke="#b4620f" stroke-width="1.25"/>
<circle cx="339.03" cy="214.85" r="2.65" fill="none" stroke="#b4620f" stroke-width="1.25"/>
<circle cx="346.30" cy="218.06" r="2.65" fill="none" stroke="#b4620f" stroke-width="1.25"/>
<circle cx="357.20" cy="222.60" r="2.65" fill="none" stroke="#b4620f" stroke-width="1.25"/>
<polyline points="55.50,95.97 62.77,116.06 70.04,111.89 77.31,111.06 84.58,112.69 91.85,115.18 99.12,118.16 106.39,120.72 113.66,123.37 120.93,126.19 128.20,128.77 135.47,131.87 142.74,134.61 150.01,137.87 157.28,140.50 164.55,144.32 171.82,148.13 179.09,152.29 186.36,156.21 193.63,159.97 200.90,164.43 208.17,168.51 215.44,172.81 222.71,177.09 229.98,181.45 237.25,186.53 244.52,191.16 251.79,196.27 259.06,200.72 266.33,206.77 273.60,211.00 280.87,215.60 288.14,219.40 295.41,226.80 302.68,231.60 309.95,236.50 317.22,242.60 324.49,248.60 331.76,255.50 339.03,263.40 346.30,269.10 357.20,274.40" fill="none" stroke="#2f9410" stroke-width="1.10" stroke-dasharray="2.6,2.0"/>
<rect x="52.90" y="93.37" width="5.2" height="5.2" fill="none" stroke="#2f9410" stroke-width="1.2"/>
<rect x="60.17" y="113.46" width="5.2" height="5.2" fill="none" stroke="#2f9410" stroke-width="1.2"/>
<rect x="67.44" y="109.29" width="5.2" height="5.2" fill="none" stroke="#2f9410" stroke-width="1.2"/>
<rect x="74.71" y="108.46" width="5.2" height="5.2" fill="none" stroke="#2f9410" stroke-width="1.2"/>
<rect x="81.98" y="110.09" width="5.2" height="5.2" fill="none" stroke="#2f9410" stroke-width="1.2"/>
<rect x="89.25" y="112.58" width="5.2" height="5.2" fill="none" stroke="#2f9410" stroke-width="1.2"/>
<rect x="96.52" y="115.56" width="5.2" height="5.2" fill="none" stroke="#2f9410" stroke-width="1.2"/>
<rect x="103.79" y="118.12" width="5.2" height="5.2" fill="none" stroke="#2f9410" stroke-width="1.2"/>
<rect x="111.06" y="120.77" width="5.2" height="5.2" fill="none" stroke="#2f9410" stroke-width="1.2"/>
<rect x="118.33" y="123.59" width="5.2" height="5.2" fill="none" stroke="#2f9410" stroke-width="1.2"/>
<rect x="125.60" y="126.17" width="5.2" height="5.2" fill="none" stroke="#2f9410" stroke-width="1.2"/>
<rect x="132.87" y="129.27" width="5.2" height="5.2" fill="none" stroke="#2f9410" stroke-width="1.2"/>
<rect x="140.14" y="132.01" width="5.2" height="5.2" fill="none" stroke="#2f9410" stroke-width="1.2"/>
<rect x="147.41" y="135.27" width="5.2" height="5.2" fill="none" stroke="#2f9410" stroke-width="1.2"/>
<rect x="154.68" y="137.90" width="5.2" height="5.2" fill="none" stroke="#2f9410" stroke-width="1.2"/>
<rect x="161.95" y="141.72" width="5.2" height="5.2" fill="none" stroke="#2f9410" stroke-width="1.2"/>
<rect x="169.22" y="145.53" width="5.2" height="5.2" fill="none" stroke="#2f9410" stroke-width="1.2"/>
<rect x="176.49" y="149.69" width="5.2" height="5.2" fill="none" stroke="#2f9410" stroke-width="1.2"/>
<rect x="183.76" y="153.61" width="5.2" height="5.2" fill="none" stroke="#2f9410" stroke-width="1.2"/>
<rect x="191.03" y="157.37" width="5.2" height="5.2" fill="none" stroke="#2f9410" stroke-width="1.2"/>
<rect x="198.30" y="161.83" width="5.2" height="5.2" fill="none" stroke="#2f9410" stroke-width="1.2"/>
<rect x="205.57" y="165.91" width="5.2" height="5.2" fill="none" stroke="#2f9410" stroke-width="1.2"/>
<rect x="212.84" y="170.21" width="5.2" height="5.2" fill="none" stroke="#2f9410" stroke-width="1.2"/>
<rect x="220.11" y="174.49" width="5.2" height="5.2" fill="none" stroke="#2f9410" stroke-width="1.2"/>
<rect x="227.38" y="178.85" width="5.2" height="5.2" fill="none" stroke="#2f9410" stroke-width="1.2"/>
<rect x="234.65" y="183.93" width="5.2" height="5.2" fill="none" stroke="#2f9410" stroke-width="1.2"/>
<rect x="241.92" y="188.56" width="5.2" height="5.2" fill="none" stroke="#2f9410" stroke-width="1.2"/>
<rect x="249.19" y="193.67" width="5.2" height="5.2" fill="none" stroke="#2f9410" stroke-width="1.2"/>
<rect x="256.46" y="198.12" width="5.2" height="5.2" fill="none" stroke="#2f9410" stroke-width="1.2"/>
<rect x="263.73" y="204.17" width="5.2" height="5.2" fill="none" stroke="#2f9410" stroke-width="1.2"/>
<rect x="271.00" y="208.40" width="5.2" height="5.2" fill="none" stroke="#2f9410" stroke-width="1.2"/>
<rect x="278.27" y="213.00" width="5.2" height="5.2" fill="none" stroke="#2f9410" stroke-width="1.2"/>
<rect x="285.54" y="216.80" width="5.2" height="5.2" fill="none" stroke="#2f9410" stroke-width="1.2"/>
<rect x="292.81" y="224.20" width="5.2" height="5.2" fill="none" stroke="#2f9410" stroke-width="1.2"/>
<rect x="300.08" y="229.00" width="5.2" height="5.2" fill="none" stroke="#2f9410" stroke-width="1.2"/>
<rect x="307.35" y="233.90" width="5.2" height="5.2" fill="none" stroke="#2f9410" stroke-width="1.2"/>
<rect x="314.62" y="240.00" width="5.2" height="5.2" fill="none" stroke="#2f9410" stroke-width="1.2"/>
<rect x="321.89" y="246.00" width="5.2" height="5.2" fill="none" stroke="#2f9410" stroke-width="1.2"/>
<rect x="329.16" y="252.90" width="5.2" height="5.2" fill="none" stroke="#2f9410" stroke-width="1.2"/>
<rect x="336.43" y="260.80" width="5.2" height="5.2" fill="none" stroke="#2f9410" stroke-width="1.2"/>
<rect x="343.70" y="266.50" width="5.2" height="5.2" fill="none" stroke="#2f9410" stroke-width="1.2"/>
<rect x="354.60" y="271.80" width="5.2" height="5.2" fill="none" stroke="#2f9410" stroke-width="1.2"/>
<polyline points="55.50,95.97 62.77,119.14 70.04,113.95 77.31,111.06 84.58,110.31 91.85,112.71 99.12,116.12 106.39,119.99 113.66,124.08 120.93,128.13 128.20,131.39 135.47,134.23 142.74,136.76 150.01,140.23 157.28,142.40 164.55,146.07 171.82,149.74 179.09,153.15 186.36,157.03 193.63,160.23 200.90,163.21 208.17,167.09 215.44,170.59 222.71,173.78 229.98,177.17 237.25,180.73 244.52,185.92 251.79,190.55 259.06,194.34 266.33,198.97 273.60,203.27 280.87,206.00 288.14,212.49 295.41,215.39 302.68,218.79 309.95,226.38 317.22,231.82 324.49,233.13 331.76,240.73 339.03,245.41 346.30,249.18 357.20,257.71" fill="none" stroke="#0000e6" stroke-width="1.30"/>
<path d="M273.60 202.19V204.34M272.10 202.19h3M272.10 204.34h3" stroke="#0000e6" stroke-width="1.2" fill="none"/>
<path d="M280.87 204.88V207.13M279.37 204.88h3M279.37 207.13h3" stroke="#0000e6" stroke-width="1.2" fill="none"/>
<path d="M288.14 211.23V213.75M286.64 211.23h3M286.64 213.75h3" stroke="#0000e6" stroke-width="1.2" fill="none"/>
<path d="M295.41 213.85V216.93M293.91 213.85h3M293.91 216.93h3" stroke="#0000e6" stroke-width="1.2" fill="none"/>
<path d="M302.68 217.15V220.43M301.18 217.15h3M301.18 220.43h3" stroke="#0000e6" stroke-width="1.2" fill="none"/>
<path d="M309.95 224.55V228.20M308.45 224.55h3M308.45 228.20h3" stroke="#0000e6" stroke-width="1.2" fill="none"/>
<path d="M317.22 229.65V233.99M315.72 229.65h3M315.72 233.99h3" stroke="#0000e6" stroke-width="1.2" fill="none"/>
<path d="M324.49 231.00V235.26M322.99 231.00h3M322.99 235.26h3" stroke="#0000e6" stroke-width="1.2" fill="none"/>
<path d="M331.76 238.05V243.42M330.26 238.05h3M330.26 243.42h3" stroke="#0000e6" stroke-width="1.2" fill="none"/>
<path d="M339.03 242.61V248.21M337.53 242.61h3M337.53 248.21h3" stroke="#0000e6" stroke-width="1.2" fill="none"/>
<path d="M346.30 246.09V252.26M344.80 246.09h3M344.80 252.26h3" stroke="#0000e6" stroke-width="1.2" fill="none"/>
<path d="M357.20 254.90V260.51M355.70 254.90h3M355.70 260.51h3" stroke="#0000e6" stroke-width="1.2" fill="none"/>
<path d="M55.50 92.77L58.10 98.37L52.90 98.37Z" fill="#0000e6"/>
<path d="M62.77 115.94L65.37 121.54L60.17 121.54Z" fill="#0000e6"/>
<path d="M70.04 110.75L72.64 116.35L67.44 116.35Z" fill="#0000e6"/>
<path d="M77.31 107.86L79.91 113.46L74.71 113.46Z" fill="#0000e6"/>
<path d="M84.58 107.11L87.18 112.71L81.98 112.71Z" fill="#0000e6"/>
<path d="M91.85 109.51L94.45 115.11L89.25 115.11Z" fill="#0000e6"/>
<path d="M99.12 112.92L101.72 118.52L96.52 118.52Z" fill="#0000e6"/>
<path d="M106.39 116.79L108.99 122.39L103.79 122.39Z" fill="#0000e6"/>
<path d="M113.66 120.88L116.26 126.48L111.06 126.48Z" fill="#0000e6"/>
<path d="M120.93 124.93L123.53 130.53L118.33 130.53Z" fill="#0000e6"/>
<path d="M128.20 128.19L130.80 133.79L125.60 133.79Z" fill="#0000e6"/>
<path d="M135.47 131.03L138.07 136.63L132.87 136.63Z" fill="#0000e6"/>
<path d="M142.74 133.56L145.34 139.16L140.14 139.16Z" fill="#0000e6"/>
<path d="M150.01 137.03L152.61 142.63L147.41 142.63Z" fill="#0000e6"/>
<path d="M157.28 139.20L159.88 144.80L154.68 144.80Z" fill="#0000e6"/>
<path d="M164.55 142.87L167.15 148.47L161.95 148.47Z" fill="#0000e6"/>
<path d="M171.82 146.54L174.42 152.14L169.22 152.14Z" fill="#0000e6"/>
<path d="M179.09 149.95L181.69 155.55L176.49 155.55Z" fill="#0000e6"/>
<path d="M186.36 153.83L188.96 159.43L183.76 159.43Z" fill="#0000e6"/>
<path d="M193.63 157.03L196.23 162.63L191.03 162.63Z" fill="#0000e6"/>
<path d="M200.90 160.01L203.50 165.61L198.30 165.61Z" fill="#0000e6"/>
<path d="M208.17 163.89L210.77 169.49L205.57 169.49Z" fill="#0000e6"/>
<path d="M215.44 167.39L218.04 172.99L212.84 172.99Z" fill="#0000e6"/>
<path d="M222.71 170.58L225.31 176.18L220.11 176.18Z" fill="#0000e6"/>
<path d="M229.98 173.97L232.58 179.57L227.38 179.57Z" fill="#0000e6"/>
<path d="M237.25 177.53L239.85 183.13L234.65 183.13Z" fill="#0000e6"/>
<path d="M244.52 182.72L247.12 188.32L241.92 188.32Z" fill="#0000e6"/>
<path d="M251.79 187.35L254.39 192.95L249.19 192.95Z" fill="#0000e6"/>
<path d="M259.06 191.14L261.66 196.74L256.46 196.74Z" fill="#0000e6"/>
<path d="M266.33 195.77L268.93 201.37L263.73 201.37Z" fill="#0000e6"/>
<path d="M273.60 200.07L276.20 205.67L271.00 205.67Z" fill="#0000e6"/>
<path d="M280.87 202.80L283.47 208.40L278.27 208.40Z" fill="#0000e6"/>
<path d="M288.14 209.29L290.74 214.89L285.54 214.89Z" fill="#0000e6"/>
<path d="M295.41 212.19L298.01 217.79L292.81 217.79Z" fill="#0000e6"/>
<path d="M302.68 215.59L305.28 221.19L300.08 221.19Z" fill="#0000e6"/>
<path d="M309.95 223.18L312.55 228.78L307.35 228.78Z" fill="#0000e6"/>
<path d="M317.22 228.62L319.82 234.22L314.62 234.22Z" fill="#0000e6"/>
<path d="M324.49 229.93L327.09 235.53L321.89 235.53Z" fill="#0000e6"/>
<path d="M331.76 237.53L334.36 243.13L329.16 243.13Z" fill="#0000e6"/>
<path d="M339.03 242.21L341.63 247.81L336.43 247.81Z" fill="#0000e6"/>
<path d="M346.30 245.98L348.90 251.58L343.70 251.58Z" fill="#0000e6"/>
<path d="M357.20 254.51L359.81 260.11L354.60 260.11Z" fill="#0000e6"/>
<polyline points="55.50,151.20 62.77,135.50 70.04,121.40 77.31,112.49 84.58,107.32 91.85,105.02 99.12,104.88 106.39,106.16 113.66,109.29 120.93,113.78 128.20,119.35 135.47,125.84 142.74,132.88 150.01,140.32 157.28,147.21 164.55,154.95 171.82,162.45 179.09,169.50 186.36,175.00 193.63,180.30 200.90,185.20 208.17,189.30 215.44,192.90 222.71,196.00 229.98,199.70 237.25,202.40 244.52,206.00 251.79,208.60 259.06,213.10 266.33,215.60 273.60,219.40 280.87,221.80 288.14,225.30 295.41,228.80 302.68,232.40 309.95,236.30 317.22,238.92 324.49,242.24 331.76,246.08 339.03,250.62 346.30,253.06 357.20,258.34" fill="none" stroke="#ff0000" stroke-width="1.25" stroke-dasharray="1.2,1.2"/>
<path d="M55.50 147.60L57.80 151.20L55.50 154.80L53.20 151.20Z" fill="#ff0000"/>
<path d="M62.77 131.90L65.07 135.50L62.77 139.10L60.47 135.50Z" fill="#ff0000"/>
<path d="M70.04 117.80L72.34 121.40L70.04 125.00L67.74 121.40Z" fill="#ff0000"/>
<path d="M77.31 108.89L79.61 112.49L77.31 116.09L75.01 112.49Z" fill="#ff0000"/>
<path d="M84.58 103.72L86.88 107.32L84.58 110.92L82.28 107.32Z" fill="#ff0000"/>
<path d="M91.85 101.42L94.15 105.02L91.85 108.62L89.55 105.02Z" fill="#ff0000"/>
<path d="M99.12 101.28L101.42 104.88L99.12 108.48L96.82 104.88Z" fill="#ff0000"/>
<path d="M106.39 102.56L108.69 106.16L106.39 109.76L104.09 106.16Z" fill="#ff0000"/>
<path d="M113.66 105.69L115.96 109.29L113.66 112.89L111.36 109.29Z" fill="#ff0000"/>
<path d="M120.93 110.18L123.23 113.78L120.93 117.38L118.63 113.78Z" fill="#ff0000"/>
<path d="M128.20 115.75L130.50 119.35L128.20 122.95L125.90 119.35Z" fill="#ff0000"/>
<path d="M135.47 122.24L137.77 125.84L135.47 129.44L133.17 125.84Z" fill="#ff0000"/>
<path d="M142.74 129.28L145.04 132.88L142.74 136.48L140.44 132.88Z" fill="#ff0000"/>
<path d="M150.01 136.72L152.31 140.32L150.01 143.92L147.71 140.32Z" fill="#ff0000"/>
<path d="M157.28 143.61L159.58 147.21L157.28 150.81L154.98 147.21Z" fill="#ff0000"/>
<path d="M164.55 151.35L166.85 154.95L164.55 158.55L162.25 154.95Z" fill="#ff0000"/>
<path d="M171.82 158.85L174.12 162.45L171.82 166.05L169.52 162.45Z" fill="#ff0000"/>
<path d="M179.09 165.90L181.39 169.50L179.09 173.10L176.79 169.50Z" fill="#ff0000"/>
<path d="M186.36 171.40L188.66 175.00L186.36 178.60L184.06 175.00Z" fill="#ff0000"/>
<path d="M193.63 176.70L195.93 180.30L193.63 183.90L191.33 180.30Z" fill="#ff0000"/>
<path d="M200.90 181.60L203.20 185.20L200.90 188.80L198.60 185.20Z" fill="#ff0000"/>
<path d="M208.17 185.70L210.47 189.30L208.17 192.90L205.87 189.30Z" fill="#ff0000"/>
<path d="M215.44 189.30L217.74 192.90L215.44 196.50L213.14 192.90Z" fill="#ff0000"/>
<path d="M222.71 192.40L225.01 196.00L222.71 199.60L220.41 196.00Z" fill="#ff0000"/>
<path d="M229.98 196.10L232.28 199.70L229.98 203.30L227.68 199.70Z" fill="#ff0000"/>
<path d="M237.25 198.80L239.55 202.40L237.25 206.00L234.95 202.40Z" fill="#ff0000"/>
<path d="M244.52 202.40L246.82 206.00L244.52 209.60L242.22 206.00Z" fill="#ff0000"/>
<path d="M251.79 205.00L254.09 208.60L251.79 212.20L249.49 208.60Z" fill="#ff0000"/>
<path d="M259.06 209.50L261.36 213.10L259.06 216.70L256.76 213.10Z" fill="#ff0000"/>
<path d="M266.33 212.00L268.63 215.60L266.33 219.20L264.03 215.60Z" fill="#ff0000"/>
<path d="M273.60 215.80L275.90 219.40L273.60 223.00L271.30 219.40Z" fill="#ff0000"/>
<path d="M280.87 218.20L283.17 221.80L280.87 225.40L278.57 221.80Z" fill="#ff0000"/>
<path d="M288.14 221.70L290.44 225.30L288.14 228.90L285.84 225.30Z" fill="#ff0000"/>
<path d="M295.41 225.20L297.71 228.80L295.41 232.40L293.11 228.80Z" fill="#ff0000"/>
<path d="M302.68 228.80L304.98 232.40L302.68 236.00L300.38 232.40Z" fill="#ff0000"/>
<path d="M309.95 232.70L312.25 236.30L309.95 239.90L307.65 236.30Z" fill="#ff0000"/>
<path d="M317.22 235.32L319.52 238.92L317.22 242.52L314.92 238.92Z" fill="#ff0000"/>
<path d="M324.49 238.64L326.79 242.24L324.49 245.84L322.19 242.24Z" fill="#ff0000"/>
<path d="M331.76 242.48L334.06 246.08L331.76 249.68L329.46 246.08Z" fill="#ff0000"/>
<path d="M339.03 247.02L341.33 250.62L339.03 254.22L336.73 250.62Z" fill="#ff0000"/>
<path d="M346.30 249.46L348.60 253.06L346.30 256.66L344.00 253.06Z" fill="#ff0000"/>
<path d="M357.20 254.74L359.50 258.34L357.20 261.94L354.90 258.34Z" fill="#ff0000"/>
</g>
<line x1="48.23" y1="17.40" x2="48.23" y2="19.40" stroke="#000" stroke-width="1.00"/>
<line x1="48.23" y1="317.40" x2="48.23" y2="315.40" stroke="#000" stroke-width="1.00"/>
<line x1="48.23" y1="317.40" x2="48.23" y2="318.90" stroke="#000" stroke-width="1.00"/>
<line x1="48.23" y1="477.75" x2="48.23" y2="475.95" stroke="#000" stroke-width="1.00"/>
<line x1="55.50" y1="17.40" x2="55.50" y2="25.40" stroke="#000" stroke-width="1.00"/>
<line x1="55.50" y1="317.40" x2="55.50" y2="309.40" stroke="#000" stroke-width="1.00"/>
<line x1="55.50" y1="317.40" x2="55.50" y2="322.90" stroke="#000" stroke-width="1.00"/>
<line x1="55.50" y1="477.75" x2="55.50" y2="472.35" stroke="#000" stroke-width="1.00"/>
<line x1="62.77" y1="17.40" x2="62.77" y2="19.40" stroke="#000" stroke-width="1.00"/>
<line x1="62.77" y1="317.40" x2="62.77" y2="315.40" stroke="#000" stroke-width="1.00"/>
<line x1="62.77" y1="317.40" x2="62.77" y2="318.90" stroke="#000" stroke-width="1.00"/>
<line x1="62.77" y1="477.75" x2="62.77" y2="475.95" stroke="#000" stroke-width="1.00"/>
<line x1="70.04" y1="17.40" x2="70.04" y2="21.40" stroke="#000" stroke-width="1.00"/>
<line x1="70.04" y1="317.40" x2="70.04" y2="313.40" stroke="#000" stroke-width="1.00"/>
<line x1="70.04" y1="317.40" x2="70.04" y2="319.90" stroke="#000" stroke-width="1.00"/>
<line x1="70.04" y1="477.75" x2="70.04" y2="474.75" stroke="#000" stroke-width="1.00"/>
<line x1="77.31" y1="17.40" x2="77.31" y2="19.40" stroke="#000" stroke-width="1.00"/>
<line x1="77.31" y1="317.40" x2="77.31" y2="315.40" stroke="#000" stroke-width="1.00"/>
<line x1="77.31" y1="317.40" x2="77.31" y2="318.90" stroke="#000" stroke-width="1.00"/>
<line x1="77.31" y1="477.75" x2="77.31" y2="475.95" stroke="#000" stroke-width="1.00"/>
<line x1="84.58" y1="17.40" x2="84.58" y2="21.40" stroke="#000" stroke-width="1.00"/>
<line x1="84.58" y1="317.40" x2="84.58" y2="313.40" stroke="#000" stroke-width="1.00"/>
<line x1="84.58" y1="317.40" x2="84.58" y2="319.90" stroke="#000" stroke-width="1.00"/>
<line x1="84.58" y1="477.75" x2="84.58" y2="474.75" stroke="#000" stroke-width="1.00"/>
<line x1="91.85" y1="17.40" x2="91.85" y2="19.40" stroke="#000" stroke-width="1.00"/>
<line x1="91.85" y1="317.40" x2="91.85" y2="315.40" stroke="#000" stroke-width="1.00"/>
<line x1="91.85" y1="317.40" x2="91.85" y2="318.90" stroke="#000" stroke-width="1.00"/>
<line x1="91.85" y1="477.75" x2="91.85" y2="475.95" stroke="#000" stroke-width="1.00"/>
<line x1="99.12" y1="17.40" x2="99.12" y2="21.40" stroke="#000" stroke-width="1.00"/>
<line x1="99.12" y1="317.40" x2="99.12" y2="313.40" stroke="#000" stroke-width="1.00"/>
<line x1="99.12" y1="317.40" x2="99.12" y2="319.90" stroke="#000" stroke-width="1.00"/>
<line x1="99.12" y1="477.75" x2="99.12" y2="474.75" stroke="#000" stroke-width="1.00"/>
<line x1="106.39" y1="17.40" x2="106.39" y2="19.40" stroke="#000" stroke-width="1.00"/>
<line x1="106.39" y1="317.40" x2="106.39" y2="315.40" stroke="#000" stroke-width="1.00"/>
<line x1="106.39" y1="317.40" x2="106.39" y2="318.90" stroke="#000" stroke-width="1.00"/>
<line x1="106.39" y1="477.75" x2="106.39" y2="475.95" stroke="#000" stroke-width="1.00"/>
<line x1="113.66" y1="17.40" x2="113.66" y2="21.40" stroke="#000" stroke-width="1.00"/>
<line x1="113.66" y1="317.40" x2="113.66" y2="313.40" stroke="#000" stroke-width="1.00"/>
<line x1="113.66" y1="317.40" x2="113.66" y2="319.90" stroke="#000" stroke-width="1.00"/>
<line x1="113.66" y1="477.75" x2="113.66" y2="474.75" stroke="#000" stroke-width="1.00"/>
<line x1="120.93" y1="17.40" x2="120.93" y2="19.40" stroke="#000" stroke-width="1.00"/>
<line x1="120.93" y1="317.40" x2="120.93" y2="315.40" stroke="#000" stroke-width="1.00"/>
<line x1="120.93" y1="317.40" x2="120.93" y2="318.90" stroke="#000" stroke-width="1.00"/>
<line x1="120.93" y1="477.75" x2="120.93" y2="475.95" stroke="#000" stroke-width="1.00"/>
<line x1="128.20" y1="17.40" x2="128.20" y2="25.40" stroke="#000" stroke-width="1.00"/>
<line x1="128.20" y1="317.40" x2="128.20" y2="309.40" stroke="#000" stroke-width="1.00"/>
<line x1="128.20" y1="317.40" x2="128.20" y2="322.90" stroke="#000" stroke-width="1.00"/>
<line x1="128.20" y1="477.75" x2="128.20" y2="472.35" stroke="#000" stroke-width="1.00"/>
<line x1="135.47" y1="17.40" x2="135.47" y2="19.40" stroke="#000" stroke-width="1.00"/>
<line x1="135.47" y1="317.40" x2="135.47" y2="315.40" stroke="#000" stroke-width="1.00"/>
<line x1="135.47" y1="317.40" x2="135.47" y2="318.90" stroke="#000" stroke-width="1.00"/>
<line x1="135.47" y1="477.75" x2="135.47" y2="475.95" stroke="#000" stroke-width="1.00"/>
<line x1="142.74" y1="17.40" x2="142.74" y2="21.40" stroke="#000" stroke-width="1.00"/>
<line x1="142.74" y1="317.40" x2="142.74" y2="313.40" stroke="#000" stroke-width="1.00"/>
<line x1="142.74" y1="317.40" x2="142.74" y2="319.90" stroke="#000" stroke-width="1.00"/>
<line x1="142.74" y1="477.75" x2="142.74" y2="474.75" stroke="#000" stroke-width="1.00"/>
<line x1="150.01" y1="17.40" x2="150.01" y2="19.40" stroke="#000" stroke-width="1.00"/>
<line x1="150.01" y1="317.40" x2="150.01" y2="315.40" stroke="#000" stroke-width="1.00"/>
<line x1="150.01" y1="317.40" x2="150.01" y2="318.90" stroke="#000" stroke-width="1.00"/>
<line x1="150.01" y1="477.75" x2="150.01" y2="475.95" stroke="#000" stroke-width="1.00"/>
<line x1="157.28" y1="17.40" x2="157.28" y2="21.40" stroke="#000" stroke-width="1.00"/>
<line x1="157.28" y1="317.40" x2="157.28" y2="313.40" stroke="#000" stroke-width="1.00"/>
<line x1="157.28" y1="317.40" x2="157.28" y2="319.90" stroke="#000" stroke-width="1.00"/>
<line x1="157.28" y1="477.75" x2="157.28" y2="474.75" stroke="#000" stroke-width="1.00"/>
<line x1="164.55" y1="17.40" x2="164.55" y2="19.40" stroke="#000" stroke-width="1.00"/>
<line x1="164.55" y1="317.40" x2="164.55" y2="315.40" stroke="#000" stroke-width="1.00"/>
<line x1="164.55" y1="317.40" x2="164.55" y2="318.90" stroke="#000" stroke-width="1.00"/>
<line x1="164.55" y1="477.75" x2="164.55" y2="475.95" stroke="#000" stroke-width="1.00"/>
<line x1="171.82" y1="17.40" x2="171.82" y2="21.40" stroke="#000" stroke-width="1.00"/>
<line x1="171.82" y1="317.40" x2="171.82" y2="313.40" stroke="#000" stroke-width="1.00"/>
<line x1="171.82" y1="317.40" x2="171.82" y2="319.90" stroke="#000" stroke-width="1.00"/>
<line x1="171.82" y1="477.75" x2="171.82" y2="474.75" stroke="#000" stroke-width="1.00"/>
<line x1="179.09" y1="17.40" x2="179.09" y2="19.40" stroke="#000" stroke-width="1.00"/>
<line x1="179.09" y1="317.40" x2="179.09" y2="315.40" stroke="#000" stroke-width="1.00"/>
<line x1="179.09" y1="317.40" x2="179.09" y2="318.90" stroke="#000" stroke-width="1.00"/>
<line x1="179.09" y1="477.75" x2="179.09" y2="475.95" stroke="#000" stroke-width="1.00"/>
<line x1="186.36" y1="17.40" x2="186.36" y2="21.40" stroke="#000" stroke-width="1.00"/>
<line x1="186.36" y1="317.40" x2="186.36" y2="313.40" stroke="#000" stroke-width="1.00"/>
<line x1="186.36" y1="317.40" x2="186.36" y2="319.90" stroke="#000" stroke-width="1.00"/>
<line x1="186.36" y1="477.75" x2="186.36" y2="474.75" stroke="#000" stroke-width="1.00"/>
<line x1="193.63" y1="17.40" x2="193.63" y2="19.40" stroke="#000" stroke-width="1.00"/>
<line x1="193.63" y1="317.40" x2="193.63" y2="315.40" stroke="#000" stroke-width="1.00"/>
<line x1="193.63" y1="317.40" x2="193.63" y2="318.90" stroke="#000" stroke-width="1.00"/>
<line x1="193.63" y1="477.75" x2="193.63" y2="475.95" stroke="#000" stroke-width="1.00"/>
<line x1="200.90" y1="17.40" x2="200.90" y2="25.40" stroke="#000" stroke-width="1.00"/>
<line x1="200.90" y1="317.40" x2="200.90" y2="309.40" stroke="#000" stroke-width="1.00"/>
<line x1="200.90" y1="317.40" x2="200.90" y2="322.90" stroke="#000" stroke-width="1.00"/>
<line x1="200.90" y1="477.75" x2="200.90" y2="472.35" stroke="#000" stroke-width="1.00"/>
<line x1="208.17" y1="17.40" x2="208.17" y2="19.40" stroke="#000" stroke-width="1.00"/>
<line x1="208.17" y1="317.40" x2="208.17" y2="315.40" stroke="#000" stroke-width="1.00"/>
<line x1="208.17" y1="317.40" x2="208.17" y2="318.90" stroke="#000" stroke-width="1.00"/>
<line x1="208.17" y1="477.75" x2="208.17" y2="475.95" stroke="#000" stroke-width="1.00"/>
<line x1="215.44" y1="17.40" x2="215.44" y2="21.40" stroke="#000" stroke-width="1.00"/>
<line x1="215.44" y1="317.40" x2="215.44" y2="313.40" stroke="#000" stroke-width="1.00"/>
<line x1="215.44" y1="317.40" x2="215.44" y2="319.90" stroke="#000" stroke-width="1.00"/>
<line x1="215.44" y1="477.75" x2="215.44" y2="474.75" stroke="#000" stroke-width="1.00"/>
<line x1="222.71" y1="17.40" x2="222.71" y2="19.40" stroke="#000" stroke-width="1.00"/>
<line x1="222.71" y1="317.40" x2="222.71" y2="315.40" stroke="#000" stroke-width="1.00"/>
<line x1="222.71" y1="317.40" x2="222.71" y2="318.90" stroke="#000" stroke-width="1.00"/>
<line x1="222.71" y1="477.75" x2="222.71" y2="475.95" stroke="#000" stroke-width="1.00"/>
<line x1="229.98" y1="17.40" x2="229.98" y2="21.40" stroke="#000" stroke-width="1.00"/>
<line x1="229.98" y1="317.40" x2="229.98" y2="313.40" stroke="#000" stroke-width="1.00"/>
<line x1="229.98" y1="317.40" x2="229.98" y2="319.90" stroke="#000" stroke-width="1.00"/>
<line x1="229.98" y1="477.75" x2="229.98" y2="474.75" stroke="#000" stroke-width="1.00"/>
<line x1="237.25" y1="17.40" x2="237.25" y2="19.40" stroke="#000" stroke-width="1.00"/>
<line x1="237.25" y1="317.40" x2="237.25" y2="315.40" stroke="#000" stroke-width="1.00"/>
<line x1="237.25" y1="317.40" x2="237.25" y2="318.90" stroke="#000" stroke-width="1.00"/>
<line x1="237.25" y1="477.75" x2="237.25" y2="475.95" stroke="#000" stroke-width="1.00"/>
<line x1="244.52" y1="17.40" x2="244.52" y2="21.40" stroke="#000" stroke-width="1.00"/>
<line x1="244.52" y1="317.40" x2="244.52" y2="313.40" stroke="#000" stroke-width="1.00"/>
<line x1="244.52" y1="317.40" x2="244.52" y2="319.90" stroke="#000" stroke-width="1.00"/>
<line x1="244.52" y1="477.75" x2="244.52" y2="474.75" stroke="#000" stroke-width="1.00"/>
<line x1="251.79" y1="17.40" x2="251.79" y2="19.40" stroke="#000" stroke-width="1.00"/>
<line x1="251.79" y1="317.40" x2="251.79" y2="315.40" stroke="#000" stroke-width="1.00"/>
<line x1="251.79" y1="317.40" x2="251.79" y2="318.90" stroke="#000" stroke-width="1.00"/>
<line x1="251.79" y1="477.75" x2="251.79" y2="475.95" stroke="#000" stroke-width="1.00"/>
<line x1="259.06" y1="17.40" x2="259.06" y2="21.40" stroke="#000" stroke-width="1.00"/>
<line x1="259.06" y1="317.40" x2="259.06" y2="313.40" stroke="#000" stroke-width="1.00"/>
<line x1="259.06" y1="317.40" x2="259.06" y2="319.90" stroke="#000" stroke-width="1.00"/>
<line x1="259.06" y1="477.75" x2="259.06" y2="474.75" stroke="#000" stroke-width="1.00"/>
<line x1="266.33" y1="17.40" x2="266.33" y2="19.40" stroke="#000" stroke-width="1.00"/>
<line x1="266.33" y1="317.40" x2="266.33" y2="315.40" stroke="#000" stroke-width="1.00"/>
<line x1="266.33" y1="317.40" x2="266.33" y2="318.90" stroke="#000" stroke-width="1.00"/>
<line x1="266.33" y1="477.75" x2="266.33" y2="475.95" stroke="#000" stroke-width="1.00"/>
<line x1="273.60" y1="17.40" x2="273.60" y2="25.40" stroke="#000" stroke-width="1.00"/>
<line x1="273.60" y1="317.40" x2="273.60" y2="309.40" stroke="#000" stroke-width="1.00"/>
<line x1="273.60" y1="317.40" x2="273.60" y2="322.90" stroke="#000" stroke-width="1.00"/>
<line x1="273.60" y1="477.75" x2="273.60" y2="472.35" stroke="#000" stroke-width="1.00"/>
<line x1="280.87" y1="17.40" x2="280.87" y2="19.40" stroke="#000" stroke-width="1.00"/>
<line x1="280.87" y1="317.40" x2="280.87" y2="315.40" stroke="#000" stroke-width="1.00"/>
<line x1="280.87" y1="317.40" x2="280.87" y2="318.90" stroke="#000" stroke-width="1.00"/>
<line x1="280.87" y1="477.75" x2="280.87" y2="475.95" stroke="#000" stroke-width="1.00"/>
<line x1="288.14" y1="17.40" x2="288.14" y2="21.40" stroke="#000" stroke-width="1.00"/>
<line x1="288.14" y1="317.40" x2="288.14" y2="313.40" stroke="#000" stroke-width="1.00"/>
<line x1="288.14" y1="317.40" x2="288.14" y2="319.90" stroke="#000" stroke-width="1.00"/>
<line x1="288.14" y1="477.75" x2="288.14" y2="474.75" stroke="#000" stroke-width="1.00"/>
<line x1="295.41" y1="17.40" x2="295.41" y2="19.40" stroke="#000" stroke-width="1.00"/>
<line x1="295.41" y1="317.40" x2="295.41" y2="315.40" stroke="#000" stroke-width="1.00"/>
<line x1="295.41" y1="317.40" x2="295.41" y2="318.90" stroke="#000" stroke-width="1.00"/>
<line x1="295.41" y1="477.75" x2="295.41" y2="475.95" stroke="#000" stroke-width="1.00"/>
<line x1="302.68" y1="17.40" x2="302.68" y2="21.40" stroke="#000" stroke-width="1.00"/>
<line x1="302.68" y1="317.40" x2="302.68" y2="313.40" stroke="#000" stroke-width="1.00"/>
<line x1="302.68" y1="317.40" x2="302.68" y2="319.90" stroke="#000" stroke-width="1.00"/>
<line x1="302.68" y1="477.75" x2="302.68" y2="474.75" stroke="#000" stroke-width="1.00"/>
<line x1="309.95" y1="17.40" x2="309.95" y2="19.40" stroke="#000" stroke-width="1.00"/>
<line x1="309.95" y1="317.40" x2="309.95" y2="315.40" stroke="#000" stroke-width="1.00"/>
<line x1="309.95" y1="317.40" x2="309.95" y2="318.90" stroke="#000" stroke-width="1.00"/>
<line x1="309.95" y1="477.75" x2="309.95" y2="475.95" stroke="#000" stroke-width="1.00"/>
<line x1="317.22" y1="17.40" x2="317.22" y2="21.40" stroke="#000" stroke-width="1.00"/>
<line x1="317.22" y1="317.40" x2="317.22" y2="313.40" stroke="#000" stroke-width="1.00"/>
<line x1="317.22" y1="317.40" x2="317.22" y2="319.90" stroke="#000" stroke-width="1.00"/>
<line x1="317.22" y1="477.75" x2="317.22" y2="474.75" stroke="#000" stroke-width="1.00"/>
<line x1="324.49" y1="17.40" x2="324.49" y2="19.40" stroke="#000" stroke-width="1.00"/>
<line x1="324.49" y1="317.40" x2="324.49" y2="315.40" stroke="#000" stroke-width="1.00"/>
<line x1="324.49" y1="317.40" x2="324.49" y2="318.90" stroke="#000" stroke-width="1.00"/>
<line x1="324.49" y1="477.75" x2="324.49" y2="475.95" stroke="#000" stroke-width="1.00"/>
<line x1="331.76" y1="17.40" x2="331.76" y2="21.40" stroke="#000" stroke-width="1.00"/>
<line x1="331.76" y1="317.40" x2="331.76" y2="313.40" stroke="#000" stroke-width="1.00"/>
<line x1="331.76" y1="317.40" x2="331.76" y2="319.90" stroke="#000" stroke-width="1.00"/>
<line x1="331.76" y1="477.75" x2="331.76" y2="474.75" stroke="#000" stroke-width="1.00"/>
<line x1="339.03" y1="17.40" x2="339.03" y2="19.40" stroke="#000" stroke-width="1.00"/>
<line x1="339.03" y1="317.40" x2="339.03" y2="315.40" stroke="#000" stroke-width="1.00"/>
<line x1="339.03" y1="317.40" x2="339.03" y2="318.90" stroke="#000" stroke-width="1.00"/>
<line x1="339.03" y1="477.75" x2="339.03" y2="475.95" stroke="#000" stroke-width="1.00"/>
<line x1="346.30" y1="17.40" x2="346.30" y2="25.40" stroke="#000" stroke-width="1.00"/>
<line x1="346.30" y1="317.40" x2="346.30" y2="309.40" stroke="#000" stroke-width="1.00"/>
<line x1="346.30" y1="317.40" x2="346.30" y2="322.90" stroke="#000" stroke-width="1.00"/>
<line x1="346.30" y1="477.75" x2="346.30" y2="472.35" stroke="#000" stroke-width="1.00"/>
<line x1="353.57" y1="17.40" x2="353.57" y2="19.40" stroke="#000" stroke-width="1.00"/>
<line x1="353.57" y1="317.40" x2="353.57" y2="315.40" stroke="#000" stroke-width="1.00"/>
<line x1="353.57" y1="317.40" x2="353.57" y2="318.90" stroke="#000" stroke-width="1.00"/>
<line x1="353.57" y1="477.75" x2="353.57" y2="475.95" stroke="#000" stroke-width="1.00"/>
<line x1="360.84" y1="17.40" x2="360.84" y2="21.40" stroke="#000" stroke-width="1.00"/>
<line x1="360.84" y1="317.40" x2="360.84" y2="313.40" stroke="#000" stroke-width="1.00"/>
<line x1="360.84" y1="317.40" x2="360.84" y2="319.90" stroke="#000" stroke-width="1.00"/>
<line x1="360.84" y1="477.75" x2="360.84" y2="474.75" stroke="#000" stroke-width="1.00"/>
<line x1="368.11" y1="17.40" x2="368.11" y2="19.40" stroke="#000" stroke-width="1.00"/>
<line x1="368.11" y1="317.40" x2="368.11" y2="315.40" stroke="#000" stroke-width="1.00"/>
<line x1="368.11" y1="317.40" x2="368.11" y2="318.90" stroke="#000" stroke-width="1.00"/>
<line x1="368.11" y1="477.75" x2="368.11" y2="475.95" stroke="#000" stroke-width="1.00"/>
<line x1="45.60" y1="314.02" x2="51.10" y2="314.02" stroke="#000" stroke-width="1.00"/>
<line x1="371.00" y1="314.02" x2="365.50" y2="314.02" stroke="#000" stroke-width="1.00"/>
<line x1="45.60" y1="309.49" x2="51.10" y2="309.49" stroke="#000" stroke-width="1.00"/>
<line x1="371.00" y1="309.49" x2="365.50" y2="309.49" stroke="#000" stroke-width="1.00"/>
<line x1="45.60" y1="305.78" x2="51.10" y2="305.78" stroke="#000" stroke-width="1.00"/>
<line x1="371.00" y1="305.78" x2="365.50" y2="305.78" stroke="#000" stroke-width="1.00"/>
<line x1="45.60" y1="302.65" x2="51.10" y2="302.65" stroke="#000" stroke-width="1.00"/>
<line x1="371.00" y1="302.65" x2="365.50" y2="302.65" stroke="#000" stroke-width="1.00"/>
<line x1="45.60" y1="299.94" x2="51.10" y2="299.94" stroke="#000" stroke-width="1.00"/>
<line x1="371.00" y1="299.94" x2="365.50" y2="299.94" stroke="#000" stroke-width="1.00"/>
<line x1="45.60" y1="297.54" x2="51.10" y2="297.54" stroke="#000" stroke-width="1.00"/>
<line x1="371.00" y1="297.54" x2="365.50" y2="297.54" stroke="#000" stroke-width="1.00"/>
<line x1="45.60" y1="295.40" x2="56.60" y2="295.40" stroke="#000" stroke-width="1.00"/>
<line x1="371.00" y1="295.40" x2="360.00" y2="295.40" stroke="#000" stroke-width="1.00"/>
<line x1="45.60" y1="281.31" x2="51.10" y2="281.31" stroke="#000" stroke-width="1.00"/>
<line x1="371.00" y1="281.31" x2="365.50" y2="281.31" stroke="#000" stroke-width="1.00"/>
<line x1="45.60" y1="273.07" x2="51.10" y2="273.07" stroke="#000" stroke-width="1.00"/>
<line x1="371.00" y1="273.07" x2="365.50" y2="273.07" stroke="#000" stroke-width="1.00"/>
<line x1="45.60" y1="267.22" x2="51.10" y2="267.22" stroke="#000" stroke-width="1.00"/>
<line x1="371.00" y1="267.22" x2="365.50" y2="267.22" stroke="#000" stroke-width="1.00"/>
<line x1="45.60" y1="262.69" x2="51.10" y2="262.69" stroke="#000" stroke-width="1.00"/>
<line x1="371.00" y1="262.69" x2="365.50" y2="262.69" stroke="#000" stroke-width="1.00"/>
<line x1="45.60" y1="258.98" x2="51.10" y2="258.98" stroke="#000" stroke-width="1.00"/>
<line x1="371.00" y1="258.98" x2="365.50" y2="258.98" stroke="#000" stroke-width="1.00"/>
<line x1="45.60" y1="255.85" x2="51.10" y2="255.85" stroke="#000" stroke-width="1.00"/>
<line x1="371.00" y1="255.85" x2="365.50" y2="255.85" stroke="#000" stroke-width="1.00"/>
<line x1="45.60" y1="253.14" x2="51.10" y2="253.14" stroke="#000" stroke-width="1.00"/>
<line x1="371.00" y1="253.14" x2="365.50" y2="253.14" stroke="#000" stroke-width="1.00"/>
<line x1="45.60" y1="250.74" x2="51.10" y2="250.74" stroke="#000" stroke-width="1.00"/>
<line x1="371.00" y1="250.74" x2="365.50" y2="250.74" stroke="#000" stroke-width="1.00"/>
<line x1="45.60" y1="248.60" x2="56.60" y2="248.60" stroke="#000" stroke-width="1.00"/>
<line x1="371.00" y1="248.60" x2="360.00" y2="248.60" stroke="#000" stroke-width="1.00"/>
<line x1="45.60" y1="234.51" x2="51.10" y2="234.51" stroke="#000" stroke-width="1.00"/>
<line x1="371.00" y1="234.51" x2="365.50" y2="234.51" stroke="#000" stroke-width="1.00"/>
<line x1="45.60" y1="226.27" x2="51.10" y2="226.27" stroke="#000" stroke-width="1.00"/>
<line x1="371.00" y1="226.27" x2="365.50" y2="226.27" stroke="#000" stroke-width="1.00"/>
<line x1="45.60" y1="220.42" x2="51.10" y2="220.42" stroke="#000" stroke-width="1.00"/>
<line x1="371.00" y1="220.42" x2="365.50" y2="220.42" stroke="#000" stroke-width="1.00"/>
<line x1="45.60" y1="215.89" x2="51.10" y2="215.89" stroke="#000" stroke-width="1.00"/>
<line x1="371.00" y1="215.89" x2="365.50" y2="215.89" stroke="#000" stroke-width="1.00"/>
<line x1="45.60" y1="212.18" x2="51.10" y2="212.18" stroke="#000" stroke-width="1.00"/>
<line x1="371.00" y1="212.18" x2="365.50" y2="212.18" stroke="#000" stroke-width="1.00"/>
<line x1="45.60" y1="209.05" x2="51.10" y2="209.05" stroke="#000" stroke-width="1.00"/>
<line x1="371.00" y1="209.05" x2="365.50" y2="209.05" stroke="#000" stroke-width="1.00"/>
<line x1="45.60" y1="206.34" x2="51.10" y2="206.34" stroke="#000" stroke-width="1.00"/>
<line x1="371.00" y1="206.34" x2="365.50" y2="206.34" stroke="#000" stroke-width="1.00"/>
<line x1="45.60" y1="203.94" x2="51.10" y2="203.94" stroke="#000" stroke-width="1.00"/>
<line x1="371.00" y1="203.94" x2="365.50" y2="203.94" stroke="#000" stroke-width="1.00"/>
<line x1="45.60" y1="201.80" x2="56.60" y2="201.80" stroke="#000" stroke-width="1.00"/>
<line x1="371.00" y1="201.80" x2="360.00" y2="201.80" stroke="#000" stroke-width="1.00"/>
<line x1="45.60" y1="187.71" x2="51.10" y2="187.71" stroke="#000" stroke-width="1.00"/>
<line x1="371.00" y1="187.71" x2="365.50" y2="187.71" stroke="#000" stroke-width="1.00"/>
<line x1="45.60" y1="179.47" x2="51.10" y2="179.47" stroke="#000" stroke-width="1.00"/>
<line x1="371.00" y1="179.47" x2="365.50" y2="179.47" stroke="#000" stroke-width="1.00"/>
<line x1="45.60" y1="173.62" x2="51.10" y2="173.62" stroke="#000" stroke-width="1.00"/>
<line x1="371.00" y1="173.62" x2="365.50" y2="173.62" stroke="#000" stroke-width="1.00"/>
<line x1="45.60" y1="169.09" x2="51.10" y2="169.09" stroke="#000" stroke-width="1.00"/>
<line x1="371.00" y1="169.09" x2="365.50" y2="169.09" stroke="#000" stroke-width="1.00"/>
<line x1="45.60" y1="165.38" x2="51.10" y2="165.38" stroke="#000" stroke-width="1.00"/>
<line x1="371.00" y1="165.38" x2="365.50" y2="165.38" stroke="#000" stroke-width="1.00"/>
<line x1="45.60" y1="162.25" x2="51.10" y2="162.25" stroke="#000" stroke-width="1.00"/>
<line x1="371.00" y1="162.25" x2="365.50" y2="162.25" stroke="#000" stroke-width="1.00"/>
<line x1="45.60" y1="159.54" x2="51.10" y2="159.54" stroke="#000" stroke-width="1.00"/>
<line x1="371.00" y1="159.54" x2="365.50" y2="159.54" stroke="#000" stroke-width="1.00"/>
<line x1="45.60" y1="157.14" x2="51.10" y2="157.14" stroke="#000" stroke-width="1.00"/>
<line x1="371.00" y1="157.14" x2="365.50" y2="157.14" stroke="#000" stroke-width="1.00"/>
<line x1="45.60" y1="155.00" x2="56.60" y2="155.00" stroke="#000" stroke-width="1.00"/>
<line x1="371.00" y1="155.00" x2="360.00" y2="155.00" stroke="#000" stroke-width="1.00"/>
<line x1="45.60" y1="140.91" x2="51.10" y2="140.91" stroke="#000" stroke-width="1.00"/>
<line x1="371.00" y1="140.91" x2="365.50" y2="140.91" stroke="#000" stroke-width="1.00"/>
<line x1="45.60" y1="132.67" x2="51.10" y2="132.67" stroke="#000" stroke-width="1.00"/>
<line x1="371.00" y1="132.67" x2="365.50" y2="132.67" stroke="#000" stroke-width="1.00"/>
<line x1="45.60" y1="126.82" x2="51.10" y2="126.82" stroke="#000" stroke-width="1.00"/>
<line x1="371.00" y1="126.82" x2="365.50" y2="126.82" stroke="#000" stroke-width="1.00"/>
<line x1="45.60" y1="122.29" x2="51.10" y2="122.29" stroke="#000" stroke-width="1.00"/>
<line x1="371.00" y1="122.29" x2="365.50" y2="122.29" stroke="#000" stroke-width="1.00"/>
<line x1="45.60" y1="118.58" x2="51.10" y2="118.58" stroke="#000" stroke-width="1.00"/>
<line x1="371.00" y1="118.58" x2="365.50" y2="118.58" stroke="#000" stroke-width="1.00"/>
<line x1="45.60" y1="115.45" x2="51.10" y2="115.45" stroke="#000" stroke-width="1.00"/>
<line x1="371.00" y1="115.45" x2="365.50" y2="115.45" stroke="#000" stroke-width="1.00"/>
<line x1="45.60" y1="112.74" x2="51.10" y2="112.74" stroke="#000" stroke-width="1.00"/>
<line x1="371.00" y1="112.74" x2="365.50" y2="112.74" stroke="#000" stroke-width="1.00"/>
<line x1="45.60" y1="110.34" x2="51.10" y2="110.34" stroke="#000" stroke-width="1.00"/>
<line x1="371.00" y1="110.34" x2="365.50" y2="110.34" stroke="#000" stroke-width="1.00"/>
<line x1="45.60" y1="108.20" x2="56.60" y2="108.20" stroke="#000" stroke-width="1.00"/>
<line x1="371.00" y1="108.20" x2="360.00" y2="108.20" stroke="#000" stroke-width="1.00"/>
<line x1="45.60" y1="94.11" x2="51.10" y2="94.11" stroke="#000" stroke-width="1.00"/>
<line x1="371.00" y1="94.11" x2="365.50" y2="94.11" stroke="#000" stroke-width="1.00"/>
<line x1="45.60" y1="85.87" x2="51.10" y2="85.87" stroke="#000" stroke-width="1.00"/>
<line x1="371.00" y1="85.87" x2="365.50" y2="85.87" stroke="#000" stroke-width="1.00"/>
<line x1="45.60" y1="80.02" x2="51.10" y2="80.02" stroke="#000" stroke-width="1.00"/>
<line x1="371.00" y1="80.02" x2="365.50" y2="80.02" stroke="#000" stroke-width="1.00"/>
<line x1="45.60" y1="75.49" x2="51.10" y2="75.49" stroke="#000" stroke-width="1.00"/>
<line x1="371.00" y1="75.49" x2="365.50" y2="75.49" stroke="#000" stroke-width="1.00"/>
<line x1="45.60" y1="71.78" x2="51.10" y2="71.78" stroke="#000" stroke-width="1.00"/>
<line x1="371.00" y1="71.78" x2="365.50" y2="71.78" stroke="#000" stroke-width="1.00"/>
<line x1="45.60" y1="68.65" x2="51.10" y2="68.65" stroke="#000" stroke-width="1.00"/>
<line x1="371.00" y1="68.65" x2="365.50" y2="68.65" stroke="#000" stroke-width="1.00"/>
<line x1="45.60" y1="65.94" x2="51.10" y2="65.94" stroke="#000" stroke-width="1.00"/>
<line x1="371.00" y1="65.94" x2="365.50" y2="65.94" stroke="#000" stroke-width="1.00"/>
<line x1="45.60" y1="63.54" x2="51.10" y2="63.54" stroke="#000" stroke-width="1.00"/>
<line x1="371.00" y1="63.54" x2="365.50" y2="63.54" stroke="#000" stroke-width="1.00"/>
<line x1="45.60" y1="61.40" x2="56.60" y2="61.40" stroke="#000" stroke-width="1.00"/>
<line x1="371.00" y1="61.40" x2="360.00" y2="61.40" stroke="#000" stroke-width="1.00"/>
<line x1="45.60" y1="47.31" x2="51.10" y2="47.31" stroke="#000" stroke-width="1.00"/>
<line x1="371.00" y1="47.31" x2="365.50" y2="47.31" stroke="#000" stroke-width="1.00"/>
<line x1="45.60" y1="39.07" x2="51.10" y2="39.07" stroke="#000" stroke-width="1.00"/>
<line x1="371.00" y1="39.07" x2="365.50" y2="39.07" stroke="#000" stroke-width="1.00"/>
<line x1="45.60" y1="33.22" x2="51.10" y2="33.22" stroke="#000" stroke-width="1.00"/>
<line x1="371.00" y1="33.22" x2="365.50" y2="33.22" stroke="#000" stroke-width="1.00"/>
<line x1="45.60" y1="28.69" x2="51.10" y2="28.69" stroke="#000" stroke-width="1.00"/>
<line x1="371.00" y1="28.69" x2="365.50" y2="28.69" stroke="#000" stroke-width="1.00"/>
<line x1="45.60" y1="24.98" x2="51.10" y2="24.98" stroke="#000" stroke-width="1.00"/>
<line x1="371.00" y1="24.98" x2="365.50" y2="24.98" stroke="#000" stroke-width="1.00"/>
<line x1="45.60" y1="21.85" x2="51.10" y2="21.85" stroke="#000" stroke-width="1.00"/>
<line x1="371.00" y1="21.85" x2="365.50" y2="21.85" stroke="#000" stroke-width="1.00"/>
<line x1="45.60" y1="19.14" x2="51.10" y2="19.14" stroke="#000" stroke-width="1.00"/>
<line x1="371.00" y1="19.14" x2="365.50" y2="19.14" stroke="#000" stroke-width="1.00"/>
<line x1="45.60" y1="458.10" x2="53.10" y2="458.10" stroke="#000" stroke-width="1.00"/>
<line x1="371.00" y1="458.10" x2="363.50" y2="458.10" stroke="#000" stroke-width="1.00"/>
<line x1="45.60" y1="442.24" x2="50.60" y2="442.24" stroke="#000" stroke-width="1.00"/>
<line x1="371.00" y1="442.24" x2="366.00" y2="442.24" stroke="#000" stroke-width="1.00"/>
<line x1="45.60" y1="428.83" x2="50.60" y2="428.83" stroke="#000" stroke-width="1.00"/>
<line x1="371.00" y1="428.83" x2="366.00" y2="428.83" stroke="#000" stroke-width="1.00"/>
<line x1="45.60" y1="417.21" x2="50.60" y2="417.21" stroke="#000" stroke-width="1.00"/>
<line x1="371.00" y1="417.21" x2="366.00" y2="417.21" stroke="#000" stroke-width="1.00"/>
<line x1="45.60" y1="406.97" x2="50.60" y2="406.97" stroke="#000" stroke-width="1.00"/>
<line x1="371.00" y1="406.97" x2="366.00" y2="406.97" stroke="#000" stroke-width="1.00"/>
<line x1="45.60" y1="397.80" x2="53.10" y2="397.80" stroke="#000" stroke-width="1.00"/>
<line x1="371.00" y1="397.80" x2="363.50" y2="397.80" stroke="#000" stroke-width="1.00"/>
<line x1="45.60" y1="389.51" x2="50.60" y2="389.51" stroke="#000" stroke-width="1.00"/>
<line x1="371.00" y1="389.51" x2="366.00" y2="389.51" stroke="#000" stroke-width="1.00"/>
<line x1="45.60" y1="381.94" x2="50.60" y2="381.94" stroke="#000" stroke-width="1.00"/>
<line x1="371.00" y1="381.94" x2="366.00" y2="381.94" stroke="#000" stroke-width="1.00"/>
<line x1="45.60" y1="374.98" x2="50.60" y2="374.98" stroke="#000" stroke-width="1.00"/>
<line x1="371.00" y1="374.98" x2="366.00" y2="374.98" stroke="#000" stroke-width="1.00"/>
<line x1="45.60" y1="368.53" x2="50.60" y2="368.53" stroke="#000" stroke-width="1.00"/>
<line x1="371.00" y1="368.53" x2="366.00" y2="368.53" stroke="#000" stroke-width="1.00"/>
<line x1="45.60" y1="362.53" x2="50.60" y2="362.53" stroke="#000" stroke-width="1.00"/>
<line x1="371.00" y1="362.53" x2="366.00" y2="362.53" stroke="#000" stroke-width="1.00"/>
<line x1="45.60" y1="356.91" x2="50.60" y2="356.91" stroke="#000" stroke-width="1.00"/>
<line x1="371.00" y1="356.91" x2="366.00" y2="356.91" stroke="#000" stroke-width="1.00"/>
<line x1="45.60" y1="351.64" x2="50.60" y2="351.64" stroke="#000" stroke-width="1.00"/>
<line x1="371.00" y1="351.64" x2="366.00" y2="351.64" stroke="#000" stroke-width="1.00"/>
<line x1="45.60" y1="346.67" x2="50.60" y2="346.67" stroke="#000" stroke-width="1.00"/>
<line x1="371.00" y1="346.67" x2="366.00" y2="346.67" stroke="#000" stroke-width="1.00"/>
<line x1="45.60" y1="341.97" x2="50.60" y2="341.97" stroke="#000" stroke-width="1.00"/>
<line x1="371.00" y1="341.97" x2="366.00" y2="341.97" stroke="#000" stroke-width="1.00"/>
<line x1="45.60" y1="337.50" x2="53.10" y2="337.50" stroke="#000" stroke-width="1.00"/>
<line x1="371.00" y1="337.50" x2="363.50" y2="337.50" stroke="#000" stroke-width="1.00"/>
<line x1="45.60" y1="333.26" x2="50.60" y2="333.26" stroke="#000" stroke-width="1.00"/>
<line x1="371.00" y1="333.26" x2="366.00" y2="333.26" stroke="#000" stroke-width="1.00"/>
<line x1="45.60" y1="329.21" x2="50.60" y2="329.21" stroke="#000" stroke-width="1.00"/>
<line x1="371.00" y1="329.21" x2="366.00" y2="329.21" stroke="#000" stroke-width="1.00"/>
<line x1="45.60" y1="325.35" x2="50.60" y2="325.35" stroke="#000" stroke-width="1.00"/>
<line x1="371.00" y1="325.35" x2="366.00" y2="325.35" stroke="#000" stroke-width="1.00"/>
<line x1="45.60" y1="321.64" x2="50.60" y2="321.64" stroke="#000" stroke-width="1.00"/>
<line x1="371.00" y1="321.64" x2="366.00" y2="321.64" stroke="#000" stroke-width="1.00"/>
<path d="M45.00 17.40H371.00M45.00 317.40H371.00M45.60 16.80V478.00" stroke="#000" stroke-width="1.2" fill="none"/>
<line x1="371.10" y1="16.80" x2="371.10" y2="478.80" stroke="#000" stroke-width="1.7"/>
<line x1="45.00" y1="477.75" x2="371.95" y2="477.75" stroke="#000" stroke-width="2"/>
<text x="51.40" y="13.70" font-size="11.90" text-anchor="start" fill="#000">900 GeV pp</text>
<text x="366.80" y="13.80" font-size="11.90" text-anchor="end" fill="#000" letter-spacing="0.1">Soft QCD</text>
<text x="134.60" y="42.60" font-size="11.95" text-anchor="start" fill="#000">Charged multiplicity</text>
<text x="240.60" y="43.60" font-size="9.60" text-anchor="start" fill="#000" letter-spacing="0.15">(|η| &lt; 1.0)</text>
<text x="39.80" y="65.00" font-size="10.20" text-anchor="end" fill="#000">1</text>
<text x="39.30" y="113.60" font-size="10.2" text-anchor="end">10<tspan font-size="8.0" dx="-0.7" dy="-4.9">−1</tspan></text>
<text x="39.30" y="160.40" font-size="10.2" text-anchor="end">10<tspan font-size="8.0" dx="-0.7" dy="-4.9">−2</tspan></text>
<text x="39.30" y="207.20" font-size="10.2" text-anchor="end">10<tspan font-size="8.0" dx="-0.7" dy="-4.9">−3</tspan></text>
<text x="39.30" y="254.00" font-size="10.2" text-anchor="end">10<tspan font-size="8.0" dx="-0.7" dy="-4.9">−4</tspan></text>
<text x="39.30" y="300.80" font-size="10.2" text-anchor="end">10<tspan font-size="8.0" dx="-0.7" dy="-4.9">−5</tspan></text>
<text x="38.90" y="341.50" font-size="11.60" text-anchor="end" fill="#000">2</text>
<text x="38.90" y="401.80" font-size="11.60" text-anchor="end" fill="#000">1</text>
<text x="38.90" y="462.20" font-size="11.60" text-anchor="end" fill="#000">0.5</text>
<text x="373.30" y="341.50" font-size="11.60" text-anchor="start" fill="#000">2</text>
<text x="373.60" y="401.80" font-size="11.60" text-anchor="start" fill="#000">1</text>
<text x="373.60" y="462.20" font-size="11.60" text-anchor="start" fill="#000">0.5</text>
<text x="55.50" y="489.20" font-size="11.00" text-anchor="middle" fill="#000">0</text>
<text x="128.20" y="489.20" font-size="11.00" text-anchor="middle" fill="#000">10</text>
<text x="200.90" y="489.20" font-size="11.00" text-anchor="middle" fill="#000">20</text>
<text x="273.60" y="489.20" font-size="11.00" text-anchor="middle" fill="#000">30</text>
<text x="346.30" y="489.20" font-size="11.00" text-anchor="middle" fill="#000">40</text>
<text x="355.00" y="502.50" font-size="11.50" text-anchor="start" fill="#000">N</text>
<text x="362.50" y="506.60" font-size="8.00" text-anchor="start" fill="#000">ch</text>
<text transform="translate(14.9,58.4) rotate(-90)" font-size="11.9">dN/dN<tspan font-size="8" dy="2.9" textLength="6" lengthAdjust="spacingAndGlyphs">ch</tspan></text>
<text transform="translate(18.7,426.4) rotate(-90)" font-size="9.0">Ratio to ALICE</text>
<text transform="translate(379.5,131.5) rotate(-90)" font-size="9.3" fill="#666">Rivet 3.1.10, ≥ 400k events</text>
<text transform="translate(381.2,313.7) rotate(-90)" font-size="9.35" fill="#666">mcplots.cern.ch [arXiv:1306.3436]</text>
<rect x="73.60" y="221.60" width="5.6" height="5.6" fill="#000"/>
<line x1="63.8" y1="237.10" x2="88.7" y2="237.10" stroke="#b4620f" stroke-width="1.0" stroke-dasharray="2.3,1.9"/>
<circle cx="76.40" cy="237.10" r="2.5" fill="none" stroke="#b4620f" stroke-width="1.2"/>
<line x1="63.8" y1="250.00" x2="88.7" y2="250.00" stroke="#2f9410" stroke-width="1.0" stroke-dasharray="2.3,1.9"/>
<rect x="73.80" y="247.40" width="5.2" height="5.2" fill="none" stroke="#2f9410" stroke-width="1.2"/>
<line x1="63.8" y1="263.00" x2="88.7" y2="263.00" stroke="#0000e6" stroke-width="1.0"/>
<path d="M76.40 259.80L79.00 265.40L73.80 265.40Z" fill="#0000e6"/>
<line x1="63.8" y1="276.00" x2="88.7" y2="276.00" stroke="#ff0000" stroke-width="1.0" stroke-dasharray="1.2,1.2"/>
<path d="M76.40 273.10L78.35 276.00L76.40 278.90L74.45 276.00Z" fill="#ff0000"/>
<text x="94.20" y="226.90" font-size="9.37" text-anchor="start" fill="#000">ALICE</text>
<text x="94.20" y="239.60" font-size="9.37" text-anchor="start" fill="#000">Herwig++ 2.7.1 default</text>
<text x="94.20" y="252.50" font-size="9.37" text-anchor="start" fill="#000">Herwig 7.2.1 default</text>
<text x="94.20" y="265.50" font-size="9.37" text-anchor="start" fill="#000">Pythia 8.212 default</text>
<text x="94.20" y="278.50" font-size="9.37" text-anchor="start" fill="#000">Sherpa 2.2.9 default</text>
<text x="165.90" y="302.40" font-size="7.81" text-anchor="start" fill="#999">ALICE_2010_S8624100</text>
</svg></body></html>
